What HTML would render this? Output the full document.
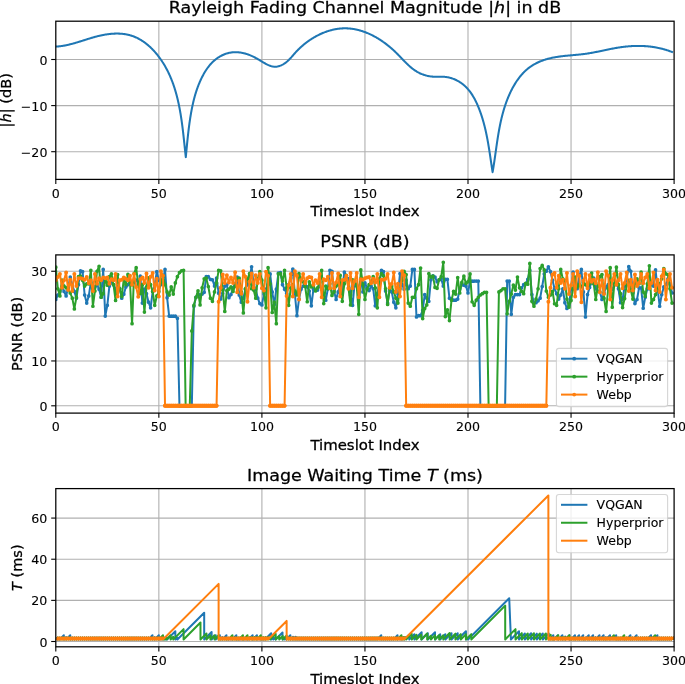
<!DOCTYPE html>
<html lang="en"><head><meta charset="utf-8"><title>Rayleigh fading channel simulation</title>
<style>html,body{margin:0;padding:0;background:#fff}svg{display:block;will-change:transform}text{font-family:'DejaVu Sans', 'Liberation Sans', sans-serif;fill:#000;stroke:#000;stroke-width:.28px;stroke-linejoin:round}.t{stroke-width:.12px}</style>
</head><body>
<svg width="685" height="684" viewBox="0 0 685 684">
<rect width="685" height="684" fill="#fff"/>
<defs>
<clipPath id="c0"><rect x="55.8" y="21.2" width="618.3" height="158.2"/></clipPath>
<clipPath id="c1"><rect x="55.8" y="254.9" width="618.3" height="158.2"/></clipPath>
<clipPath id="c2"><rect x="55.8" y="488.6" width="618.3" height="158.2"/></clipPath>
</defs>
<line x1="158.85" x2="158.85" y1="21.2" y2="179.4" stroke="#b0b0b0" stroke-width="1.1"/>
<line x1="261.9" x2="261.9" y1="21.2" y2="179.4" stroke="#b0b0b0" stroke-width="1.1"/>
<line x1="364.95" x2="364.95" y1="21.2" y2="179.4" stroke="#b0b0b0" stroke-width="1.1"/>
<line x1="468" x2="468" y1="21.2" y2="179.4" stroke="#b0b0b0" stroke-width="1.1"/>
<line x1="571.05" x2="571.05" y1="21.2" y2="179.4" stroke="#b0b0b0" stroke-width="1.1"/>
<line x1="55.8" x2="674.1" y1="59.5" y2="59.5" stroke="#b0b0b0" stroke-width="1.1"/>
<line x1="55.8" x2="674.1" y1="105.6" y2="105.6" stroke="#b0b0b0" stroke-width="1.1"/>
<line x1="55.8" x2="674.1" y1="151.7" y2="151.7" stroke="#b0b0b0" stroke-width="1.1"/>
<path d="M55.8 46.6 L56.41 46.57 L57.01 46.53 L57.61 46.48 L58.21 46.43 L58.81 46.37 L59.41 46.31 L60 46.24 L60.6 46.16 L61.19 46.08 L61.78 46 L62.37 45.91 L62.96 45.82 L63.55 45.72 L64.14 45.62 L64.72 45.51 L65.31 45.4 L65.89 45.28 L66.48 45.16 L67.06 45.04 L67.64 44.91 L68.22 44.78 L68.8 44.65 L69.38 44.51 L69.95 44.37 L70.53 44.22 L71.11 44.08 L71.68 43.93 L72.26 43.77 L72.83 43.62 L73.4 43.46 L73.98 43.3 L74.55 43.14 L75.12 42.97 L75.7 42.81 L76.27 42.64 L76.84 42.47 L77.41 42.3 L77.98 42.12 L78.55 41.95 L79.12 41.77 L79.69 41.59 L80.26 41.42 L80.84 41.24 L81.41 41.06 L81.98 40.88 L82.55 40.7 L83.12 40.52 L83.69 40.33 L84.26 40.15 L84.83 39.97 L85.41 39.79 L85.98 39.61 L86.55 39.43 L87.12 39.25 L87.7 39.07 L88.27 38.89 L88.85 38.71 L89.42 38.53 L90 38.36 L90.57 38.18 L91.15 38.01 L91.73 37.84 L92.31 37.67 L92.89 37.5 L93.47 37.33 L94.05 37.17 L94.63 37.01 L95.22 36.85 L95.8 36.69 L96.39 36.53 L96.97 36.38 L97.56 36.23 L98.15 36.09 L98.74 35.94 L99.33 35.8 L99.93 35.66 L100.52 35.53 L101.12 35.4 L101.71 35.27 L102.31 35.15 L102.91 35.03 L103.51 34.92 L104.12 34.8 L104.72 34.7 L105.33 34.59 L105.93 34.5 L106.54 34.4 L107.15 34.31 L107.76 34.23 L108.37 34.15 L108.98 34.07 L109.59 34 L110.2 33.94 L110.81 33.88 L111.42 33.82 L112.04 33.78 L112.65 33.73 L113.26 33.69 L113.87 33.66 L114.48 33.63 L115.09 33.61 L115.71 33.6 L116.32 33.59 L116.92 33.58 L117.53 33.59 L118.14 33.59 L118.75 33.61 L119.35 33.63 L119.96 33.66 L120.56 33.69 L121.16 33.74 L121.76 33.78 L122.36 33.84 L122.96 33.9 L123.55 33.97 L124.15 34.05 L124.74 34.13 L125.33 34.22 L125.92 34.32 L126.5 34.43 L127.08 34.54 L127.66 34.66 L128.24 34.79 L128.82 34.93 L129.39 35.08 L129.96 35.23 L130.53 35.39 L131.09 35.56 L131.65 35.74 L132.21 35.92 L132.76 36.12 L133.32 36.32 L133.86 36.53 L134.41 36.75 L134.95 36.97 L135.49 37.2 L136.03 37.44 L136.56 37.69 L137.09 37.94 L137.62 38.2 L138.14 38.47 L138.66 38.74 L139.18 39.03 L139.7 39.31 L140.21 39.61 L140.72 39.91 L141.22 40.22 L141.72 40.53 L142.22 40.85 L142.72 41.17 L143.21 41.5 L143.7 41.84 L144.19 42.18 L144.67 42.53 L145.15 42.89 L145.62 43.25 L146.1 43.61 L146.57 43.98 L147.03 44.36 L147.49 44.74 L147.95 45.12 L148.41 45.52 L148.86 45.91 L149.31 46.31 L149.76 46.71 L150.2 47.12 L150.64 47.54 L151.07 47.95 L151.51 48.38 L151.94 48.8 L152.36 49.23 L152.78 49.67 L153.2 50.1 L153.62 50.55 L154.03 50.99 L154.43 51.44 L154.84 51.89 L155.24 52.35 L155.64 52.81 L156.03 53.27 L156.42 53.73 L156.81 54.2 L157.19 54.67 L157.57 55.14 L157.94 55.62 L158.32 56.1 L158.68 56.58 L159.05 57.06 L159.41 57.55 L159.77 58.04 L160.12 58.53 L160.47 59.02 L160.82 59.51 L161.16 60.01 L161.5 60.5 L161.83 61 L162.17 61.5 L162.49 62.01 L162.82 62.51 L163.14 63.02 L163.46 63.53 L163.77 64.04 L164.08 64.55 L164.39 65.06 L164.69 65.58 L164.99 66.09 L165.29 66.61 L165.58 67.13 L165.87 67.65 L166.16 68.17 L166.44 68.7 L166.72 69.23 L167 69.75 L167.27 70.28 L167.54 70.81 L167.81 71.35 L168.08 71.88 L168.34 72.41 L168.6 72.95 L168.85 73.49 L169.1 74.03 L169.35 74.57 L169.6 75.11 L169.84 75.65 L170.08 76.2 L170.32 76.75 L170.55 77.29 L170.78 77.84 L171.01 78.39 L171.24 78.94 L171.46 79.5 L171.68 80.05 L171.9 80.61 L172.11 81.16 L172.33 81.72 L172.53 82.28 L172.74 82.84 L172.95 83.4 L173.15 83.96 L173.35 84.53 L173.54 85.09 L173.74 85.66 L173.93 86.22 L174.12 86.79 L174.3 87.36 L174.49 87.93 L174.67 88.5 L174.85 89.07 L175.02 89.64 L175.2 90.22 L175.37 90.79 L175.54 91.37 L175.71 91.95 L175.87 92.52 L176.04 93.1 L176.2 93.68 L176.36 94.26 L176.51 94.84 L176.67 95.42 L176.82 96 L176.97 96.59 L177.12 97.17 L177.26 97.76 L177.41 98.34 L177.55 98.93 L177.69 99.51 L177.83 100.1 L177.97 100.69 L178.1 101.28 L178.23 101.87 L178.36 102.46 L178.49 103.05 L178.62 103.64 L178.75 104.23 L178.87 104.82 L178.99 105.42 L179.11 106.01 L179.23 106.6 L179.35 107.2 L179.46 107.79 L179.58 108.39 L179.69 108.98 L179.8 109.58 L179.91 110.18 L180.02 110.77 L180.13 111.37 L180.23 111.97 L180.33 112.57 L180.44 113.16 L180.54 113.76 L180.64 114.36 L180.73 114.96 L180.83 115.56 L180.93 116.16 L181.02 116.76 L181.11 117.36 L181.21 117.96 L181.3 118.56 L181.39 119.16 L181.47 119.76 L181.56 120.36 L181.65 120.97 L181.73 121.57 L181.82 122.17 L181.9 122.77 L181.98 123.37 L182.06 123.97 L182.14 124.57 L182.22 125.18 L182.3 125.78 L182.38 126.38 L182.45 126.98 L182.53 127.58 L182.61 128.18 L182.68 128.78 L182.75 129.38 L182.83 129.99 L182.9 130.59 L182.97 131.19 L183.04 131.79 L183.11 132.39 L183.18 132.99 L183.25 133.59 L183.32 134.19 L183.39 134.79 L183.45 135.39 L183.52 135.99 L183.59 136.58 L183.65 137.18 L183.72 137.78 L183.78 138.38 L183.85 138.97 L183.91 139.57 L183.98 140.17 L184.04 140.76 L184.1 141.36 L184.17 141.96 L184.23 142.55 L184.29 143.14 L184.36 143.74 L184.42 144.33 L184.48 144.92 L184.55 145.52 L184.61 146.11 L184.67 146.7 L184.73 147.29 L184.8 147.88 L184.86 148.47 L184.92 149.06 L184.98 149.64 L185.05 150.23 L185.11 150.82 L185.17 151.4 L185.23 151.99 L185.3 152.57 L185.36 153.16 L185.42 153.74 L185.49 154.32 L185.55 154.9 L185.62 155.49 L185.68 156.06 L185.75 156.64 L185.8 157.1 L185.8 157.1 L185.86 156.5 L185.92 155.91 L185.97 155.31 L186.03 154.71 L186.09 154.11 L186.15 153.52 L186.2 152.92 L186.26 152.32 L186.32 151.72 L186.38 151.13 L186.43 150.53 L186.49 149.93 L186.55 149.34 L186.61 148.74 L186.66 148.14 L186.72 147.54 L186.78 146.95 L186.84 146.35 L186.9 145.75 L186.96 145.15 L187.01 144.56 L187.07 143.96 L187.13 143.36 L187.19 142.77 L187.25 142.17 L187.31 141.57 L187.37 140.98 L187.43 140.38 L187.5 139.78 L187.56 139.19 L187.62 138.59 L187.68 137.99 L187.75 137.4 L187.81 136.8 L187.88 136.2 L187.94 135.61 L188.01 135.01 L188.07 134.41 L188.14 133.82 L188.21 133.22 L188.28 132.63 L188.34 132.03 L188.41 131.43 L188.48 130.84 L188.56 130.24 L188.63 129.65 L188.7 129.05 L188.77 128.46 L188.85 127.86 L188.92 127.27 L189 126.67 L189.08 126.08 L189.16 125.48 L189.24 124.89 L189.32 124.29 L189.4 123.7 L189.48 123.1 L189.56 122.51 L189.65 121.92 L189.73 121.32 L189.82 120.73 L189.91 120.13 L190 119.54 L190.09 118.95 L190.18 118.35 L190.27 117.76 L190.36 117.17 L190.46 116.58 L190.56 115.98 L190.65 115.39 L190.75 114.8 L190.85 114.21 L190.96 113.62 L191.06 113.02 L191.16 112.43 L191.27 111.84 L191.38 111.25 L191.49 110.66 L191.6 110.07 L191.71 109.48 L191.83 108.89 L191.94 108.3 L192.06 107.71 L192.18 107.12 L192.3 106.53 L192.42 105.95 L192.55 105.36 L192.68 104.77 L192.81 104.18 L192.94 103.6 L193.07 103.01 L193.21 102.43 L193.34 101.84 L193.48 101.26 L193.62 100.68 L193.77 100.09 L193.92 99.51 L194.06 98.93 L194.22 98.35 L194.37 97.77 L194.53 97.19 L194.68 96.61 L194.84 96.04 L195.01 95.46 L195.17 94.89 L195.34 94.31 L195.52 93.74 L195.69 93.16 L195.87 92.59 L196.05 92.02 L196.23 91.45 L196.41 90.88 L196.6 90.31 L196.79 89.75 L196.99 89.18 L197.19 88.61 L197.39 88.05 L197.59 87.49 L197.8 86.93 L198.01 86.37 L198.22 85.81 L198.44 85.25 L198.66 84.69 L198.88 84.14 L199.11 83.58 L199.34 83.03 L199.57 82.48 L199.81 81.93 L200.05 81.38 L200.29 80.83 L200.54 80.28 L200.79 79.74 L201.04 79.19 L201.3 78.65 L201.56 78.11 L201.83 77.57 L202.1 77.03 L202.37 76.5 L202.65 75.96 L202.93 75.43 L203.22 74.9 L203.51 74.37 L203.8 73.85 L204.1 73.32 L204.4 72.8 L204.71 72.28 L205.02 71.77 L205.34 71.25 L205.66 70.74 L205.99 70.24 L206.32 69.73 L206.66 69.23 L207 68.74 L207.34 68.25 L207.7 67.76 L208.06 67.28 L208.42 66.8 L208.79 66.32 L209.16 65.85 L209.55 65.39 L209.93 64.93 L210.33 64.47 L210.73 64.02 L211.13 63.58 L211.54 63.14 L211.96 62.71 L212.39 62.28 L212.82 61.86 L213.26 61.45 L213.7 61.04 L214.15 60.64 L214.61 60.24 L215.08 59.85 L215.55 59.47 L216.03 59.1 L216.52 58.73 L217.01 58.37 L217.51 58.02 L218.02 57.67 L218.54 57.34 L219.06 57.01 L219.59 56.69 L220.13 56.38 L220.67 56.08 L221.22 55.78 L221.77 55.5 L222.32 55.23 L222.88 54.97 L223.44 54.72 L224.01 54.48 L224.57 54.25 L225.14 54.04 L225.71 53.83 L226.28 53.64 L226.85 53.46 L227.42 53.29 L228 53.14 L228.57 53 L229.14 52.87 L229.72 52.75 L230.29 52.64 L230.87 52.54 L231.44 52.46 L232.02 52.39 L232.59 52.33 L233.17 52.27 L233.74 52.24 L234.32 52.21 L234.9 52.19 L235.47 52.18 L236.05 52.19 L236.63 52.2 L237.21 52.22 L237.78 52.26 L238.36 52.3 L238.94 52.36 L239.51 52.42 L240.09 52.5 L240.66 52.58 L241.24 52.67 L241.82 52.78 L242.39 52.89 L242.96 53.01 L243.54 53.14 L244.11 53.28 L244.69 53.43 L245.26 53.58 L245.83 53.75 L246.4 53.92 L246.97 54.11 L247.54 54.3 L248.11 54.49 L248.68 54.7 L249.24 54.91 L249.81 55.14 L250.38 55.37 L250.94 55.6 L251.5 55.85 L252.07 56.1 L252.63 56.36 L253.19 56.63 L253.75 56.9 L254.3 57.18 L254.86 57.47 L255.41 57.76 L255.97 58.06 L256.52 58.37 L257.07 58.68 L257.62 59 L258.17 59.32 L258.72 59.65 L259.26 59.98 L259.81 60.31 L260.35 60.64 L260.89 60.97 L261.43 61.3 L261.98 61.63 L262.52 61.96 L263.06 62.28 L263.6 62.6 L264.13 62.91 L264.67 63.22 L265.21 63.52 L265.75 63.81 L266.29 64.1 L266.82 64.37 L267.36 64.64 L267.9 64.89 L268.44 65.13 L268.98 65.35 L269.52 65.57 L270.05 65.76 L270.59 65.95 L271.13 66.11 L271.67 66.26 L272.21 66.39 L272.76 66.5 L273.3 66.59 L273.84 66.66 L274.39 66.7 L274.93 66.72 L275.48 66.72 L276.03 66.7 L276.58 66.65 L277.13 66.57 L277.68 66.47 L278.23 66.35 L278.77 66.21 L279.32 66.04 L279.87 65.86 L280.41 65.65 L280.95 65.43 L281.49 65.19 L282.02 64.93 L282.55 64.65 L283.07 64.36 L283.59 64.05 L284.1 63.73 L284.61 63.4 L285.11 63.05 L285.6 62.7 L286.09 62.33 L286.56 61.95 L287.03 61.56 L287.49 61.17 L287.93 60.76 L288.37 60.35 L288.8 59.94 L289.23 59.51 L289.65 59.09 L290.06 58.65 L290.46 58.21 L290.87 57.77 L291.27 57.33 L291.66 56.88 L292.05 56.43 L292.45 55.98 L292.84 55.52 L293.23 55.07 L293.62 54.62 L294.01 54.16 L294.41 53.71 L294.8 53.26 L295.2 52.81 L295.61 52.36 L296.02 51.92 L296.43 51.48 L296.85 51.04 L297.27 50.6 L297.69 50.17 L298.12 49.74 L298.55 49.31 L298.99 48.89 L299.42 48.47 L299.87 48.05 L300.31 47.63 L300.76 47.22 L301.22 46.81 L301.67 46.4 L302.13 46 L302.6 45.6 L303.06 45.2 L303.53 44.81 L304.01 44.42 L304.48 44.03 L304.96 43.65 L305.44 43.27 L305.93 42.89 L306.42 42.52 L306.91 42.15 L307.4 41.79 L307.9 41.42 L308.4 41.07 L308.9 40.71 L309.41 40.36 L309.91 40.02 L310.42 39.68 L310.94 39.34 L311.45 39.01 L311.97 38.68 L312.49 38.35 L313.01 38.03 L313.54 37.72 L314.07 37.4 L314.6 37.1 L315.13 36.79 L315.66 36.49 L316.2 36.2 L316.74 35.91 L317.28 35.62 L317.82 35.34 L318.36 35.07 L318.91 34.8 L319.46 34.53 L320.01 34.27 L320.56 34.01 L321.11 33.76 L321.67 33.52 L322.22 33.28 L322.78 33.04 L323.34 32.81 L323.9 32.58 L324.46 32.36 L325.03 32.15 L325.59 31.94 L326.16 31.73 L326.73 31.53 L327.29 31.34 L327.86 31.15 L328.44 30.97 L329.01 30.79 L329.58 30.62 L330.15 30.46 L330.73 30.3 L331.31 30.14 L331.88 30 L332.46 29.85 L333.04 29.72 L333.62 29.59 L334.2 29.46 L334.78 29.35 L335.36 29.23 L335.94 29.13 L336.52 29.03 L337.1 28.94 L337.69 28.85 L338.27 28.77 L338.85 28.69 L339.44 28.63 L340.02 28.57 L340.61 28.51 L341.19 28.46 L341.77 28.42 L342.36 28.39 L342.94 28.36 L343.53 28.34 L344.11 28.33 L344.69 28.32 L345.28 28.32 L345.86 28.32 L346.44 28.34 L347.03 28.36 L347.61 28.39 L348.19 28.42 L348.77 28.46 L349.36 28.51 L349.94 28.56 L350.52 28.62 L351.1 28.69 L351.68 28.76 L352.26 28.84 L352.84 28.92 L353.41 29.01 L353.99 29.11 L354.57 29.22 L355.15 29.33 L355.72 29.44 L356.3 29.56 L356.87 29.69 L357.44 29.82 L358.02 29.96 L358.59 30.11 L359.16 30.26 L359.73 30.42 L360.3 30.58 L360.86 30.75 L361.43 30.92 L362 31.1 L362.56 31.28 L363.13 31.47 L363.69 31.67 L364.25 31.86 L364.81 32.07 L365.37 32.28 L365.93 32.5 L366.49 32.72 L367.04 32.94 L367.6 33.17 L368.15 33.41 L368.7 33.65 L369.25 33.89 L369.8 34.14 L370.35 34.39 L370.9 34.65 L371.44 34.92 L371.99 35.18 L372.53 35.46 L373.07 35.73 L373.61 36.01 L374.14 36.3 L374.68 36.59 L375.21 36.88 L375.75 37.18 L376.28 37.48 L376.8 37.79 L377.33 38.1 L377.86 38.42 L378.38 38.73 L378.9 39.06 L379.42 39.38 L379.94 39.71 L380.45 40.04 L380.97 40.38 L381.48 40.72 L381.99 41.07 L382.5 41.41 L383 41.77 L383.51 42.12 L384.01 42.48 L384.51 42.84 L385 43.2 L385.5 43.57 L385.99 43.94 L386.48 44.32 L386.97 44.69 L387.46 45.08 L387.94 45.46 L388.42 45.84 L388.9 46.23 L389.38 46.62 L389.85 47.02 L390.32 47.42 L390.79 47.82 L391.25 48.22 L391.72 48.62 L392.18 49.03 L392.64 49.44 L393.09 49.85 L393.55 50.27 L394 50.68 L394.44 51.1 L394.89 51.52 L395.33 51.95 L395.77 52.37 L396.21 52.8 L396.64 53.23 L397.07 53.66 L397.5 54.09 L397.93 54.53 L398.35 54.96 L398.78 55.39 L399.2 55.83 L399.62 56.27 L400.04 56.7 L400.46 57.14 L400.88 57.57 L401.3 58.01 L401.71 58.44 L402.13 58.88 L402.55 59.31 L402.96 59.74 L403.38 60.17 L403.79 60.6 L404.21 61.03 L404.63 61.46 L405.05 61.88 L405.47 62.3 L405.89 62.72 L406.31 63.14 L406.73 63.55 L407.16 63.96 L407.58 64.37 L408.01 64.77 L408.44 65.17 L408.87 65.57 L409.31 65.96 L409.74 66.35 L410.18 66.73 L410.63 67.11 L411.07 67.48 L411.52 67.85 L411.98 68.22 L412.43 68.58 L412.89 68.93 L413.35 69.28 L413.82 69.62 L414.29 69.96 L414.77 70.29 L415.25 70.61 L415.74 70.93 L416.23 71.24 L416.72 71.54 L417.22 71.84 L417.73 72.13 L418.24 72.41 L418.76 72.68 L419.28 72.95 L419.81 73.2 L420.34 73.45 L420.88 73.69 L421.43 73.93 L421.98 74.15 L422.53 74.36 L423.09 74.57 L423.66 74.77 L424.23 74.96 L424.8 75.14 L425.38 75.31 L425.96 75.47 L426.55 75.62 L427.13 75.77 L427.72 75.9 L428.32 76.02 L428.91 76.14 L429.51 76.24 L430.11 76.34 L430.71 76.42 L431.32 76.5 L431.92 76.57 L432.52 76.62 L433.13 76.67 L433.74 76.7 L434.34 76.73 L434.95 76.75 L435.56 76.76 L436.17 76.76 L436.77 76.76 L437.38 76.75 L437.99 76.75 L438.59 76.74 L439.2 76.73 L439.81 76.72 L440.41 76.71 L441.01 76.71 L441.62 76.72 L442.22 76.73 L442.82 76.74 L443.42 76.77 L444.02 76.8 L444.62 76.85 L445.21 76.91 L445.8 76.98 L446.4 77.06 L446.99 77.15 L447.57 77.25 L448.16 77.36 L448.74 77.49 L449.32 77.62 L449.9 77.77 L450.48 77.92 L451.05 78.09 L451.62 78.26 L452.18 78.45 L452.75 78.64 L453.31 78.85 L453.86 79.06 L454.41 79.29 L454.96 79.52 L455.5 79.76 L456.04 80.01 L456.57 80.27 L457.1 80.54 L457.63 80.82 L458.15 81.11 L458.67 81.4 L459.18 81.71 L459.68 82.02 L460.18 82.34 L460.67 82.67 L461.16 83.01 L461.65 83.35 L462.12 83.7 L462.59 84.06 L463.06 84.43 L463.51 84.81 L463.96 85.19 L464.41 85.58 L464.85 85.97 L465.28 86.38 L465.71 86.79 L466.12 87.2 L466.54 87.62 L466.95 88.05 L467.35 88.49 L467.74 88.93 L468.13 89.38 L468.52 89.83 L468.89 90.29 L469.27 90.75 L469.63 91.22 L469.99 91.7 L470.35 92.18 L470.7 92.66 L471.05 93.15 L471.39 93.64 L471.72 94.14 L472.05 94.64 L472.38 95.15 L472.7 95.66 L473.01 96.18 L473.32 96.7 L473.63 97.22 L473.93 97.75 L474.23 98.28 L474.52 98.81 L474.81 99.35 L475.09 99.89 L475.37 100.43 L475.64 100.97 L475.92 101.52 L476.18 102.07 L476.45 102.62 L476.7 103.18 L476.96 103.73 L477.21 104.29 L477.46 104.85 L477.7 105.42 L477.94 105.98 L478.18 106.54 L478.41 107.11 L478.64 107.68 L478.87 108.25 L479.09 108.82 L479.31 109.39 L479.53 109.96 L479.75 110.53 L479.96 111.1 L480.17 111.67 L480.37 112.24 L480.57 112.81 L480.77 113.39 L480.97 113.96 L481.17 114.53 L481.36 115.1 L481.55 115.68 L481.73 116.25 L481.92 116.83 L482.1 117.4 L482.28 117.97 L482.45 118.55 L482.63 119.12 L482.8 119.7 L482.97 120.28 L483.14 120.85 L483.3 121.43 L483.46 122 L483.62 122.58 L483.78 123.16 L483.94 123.74 L484.09 124.31 L484.24 124.89 L484.39 125.47 L484.54 126.05 L484.68 126.63 L484.83 127.21 L484.97 127.79 L485.11 128.37 L485.25 128.95 L485.38 129.53 L485.52 130.11 L485.65 130.69 L485.78 131.27 L485.91 131.85 L486.04 132.43 L486.16 133.01 L486.29 133.6 L486.41 134.18 L486.53 134.76 L486.65 135.34 L486.77 135.93 L486.88 136.51 L487 137.1 L487.11 137.68 L487.22 138.26 L487.34 138.85 L487.45 139.43 L487.55 140.02 L487.66 140.6 L487.77 141.19 L487.87 141.78 L487.98 142.36 L488.08 142.95 L488.18 143.54 L488.28 144.12 L488.38 144.71 L488.48 145.3 L488.58 145.89 L488.68 146.47 L488.78 147.06 L488.87 147.65 L488.97 148.24 L489.06 148.83 L489.16 149.42 L489.25 150.01 L489.34 150.6 L489.44 151.19 L489.53 151.78 L489.62 152.37 L489.71 152.96 L489.8 153.55 L489.89 154.15 L489.98 154.74 L490.07 155.33 L490.16 155.92 L490.25 156.52 L490.33 157.11 L490.42 157.7 L490.51 158.3 L490.6 158.89 L490.69 159.48 L490.77 160.08 L490.86 160.67 L490.95 161.27 L491.04 161.86 L491.12 162.46 L491.21 163.05 L491.3 163.65 L491.39 164.25 L491.48 164.84 L491.57 165.44 L491.66 166.04 L491.75 166.63 L491.84 167.23 L491.93 167.83 L492.02 168.43 L492.11 169.03 L492.2 169.62 L492.29 170.22 L492.38 170.82 L492.48 171.42 L492.57 172.02 L492.6 172.2 L492.6 172.2 L492.7 171.61 L492.8 171.02 L492.9 170.43 L493 169.85 L493.1 169.26 L493.2 168.67 L493.3 168.08 L493.39 167.49 L493.49 166.9 L493.58 166.3 L493.67 165.71 L493.76 165.12 L493.86 164.53 L493.95 163.94 L494.04 163.35 L494.13 162.75 L494.21 162.16 L494.3 161.57 L494.39 160.98 L494.48 160.38 L494.56 159.79 L494.65 159.2 L494.74 158.6 L494.82 158.01 L494.91 157.42 L494.99 156.82 L495.08 156.23 L495.16 155.64 L495.25 155.04 L495.33 154.45 L495.41 153.85 L495.5 153.26 L495.58 152.67 L495.67 152.07 L495.75 151.48 L495.83 150.88 L495.92 150.29 L496 149.69 L496.09 149.1 L496.17 148.5 L496.25 147.91 L496.34 147.32 L496.42 146.72 L496.51 146.13 L496.6 145.53 L496.68 144.94 L496.77 144.34 L496.86 143.75 L496.94 143.16 L497.03 142.56 L497.12 141.97 L497.21 141.37 L497.3 140.78 L497.39 140.19 L497.48 139.59 L497.57 139 L497.66 138.41 L497.76 137.81 L497.85 137.22 L497.95 136.63 L498.04 136.04 L498.14 135.44 L498.24 134.85 L498.34 134.26 L498.43 133.67 L498.54 133.08 L498.64 132.48 L498.74 131.89 L498.84 131.3 L498.95 130.71 L499.06 130.12 L499.16 129.53 L499.27 128.94 L499.38 128.35 L499.5 127.76 L499.61 127.18 L499.72 126.59 L499.84 126 L499.96 125.41 L500.08 124.82 L500.2 124.24 L500.32 123.65 L500.44 123.06 L500.57 122.48 L500.69 121.89 L500.82 121.31 L500.95 120.72 L501.09 120.14 L501.22 119.55 L501.36 118.97 L501.49 118.39 L501.63 117.8 L501.78 117.22 L501.92 116.64 L502.07 116.06 L502.21 115.48 L502.36 114.9 L502.52 114.32 L502.67 113.74 L502.83 113.16 L502.99 112.58 L503.15 112 L503.31 111.43 L503.48 110.85 L503.64 110.27 L503.81 109.7 L503.99 109.12 L504.16 108.55 L504.34 107.97 L504.52 107.4 L504.7 106.83 L504.89 106.26 L505.08 105.68 L505.27 105.11 L505.46 104.54 L505.66 103.97 L505.86 103.41 L506.06 102.84 L506.26 102.27 L506.47 101.7 L506.68 101.14 L506.9 100.57 L507.11 100.01 L507.33 99.44 L507.55 98.88 L507.78 98.32 L508.01 97.75 L508.24 97.19 L508.47 96.63 L508.71 96.07 L508.95 95.51 L509.2 94.96 L509.45 94.4 L509.7 93.84 L509.95 93.29 L510.21 92.73 L510.47 92.18 L510.74 91.63 L511 91.08 L511.28 90.53 L511.55 89.99 L511.83 89.44 L512.11 88.9 L512.4 88.36 L512.69 87.82 L512.98 87.28 L513.28 86.75 L513.58 86.21 L513.88 85.68 L514.19 85.16 L514.5 84.63 L514.81 84.11 L515.13 83.59 L515.45 83.07 L515.78 82.56 L516.11 82.05 L516.44 81.54 L516.78 81.04 L517.12 80.54 L517.46 80.04 L517.81 79.55 L518.17 79.06 L518.52 78.57 L518.88 78.09 L519.25 77.61 L519.62 77.14 L519.99 76.67 L520.37 76.2 L520.75 75.74 L521.13 75.28 L521.52 74.83 L521.91 74.38 L522.31 73.94 L522.71 73.5 L523.12 73.07 L523.53 72.64 L523.94 72.22 L524.36 71.8 L524.78 71.39 L525.21 70.98 L525.64 70.58 L526.07 70.18 L526.51 69.79 L526.96 69.41 L527.41 69.03 L527.86 68.66 L528.32 68.29 L528.78 67.93 L529.24 67.58 L529.71 67.23 L530.19 66.89 L530.67 66.55 L531.15 66.23 L531.64 65.9 L532.13 65.59 L532.63 65.28 L533.13 64.97 L533.63 64.67 L534.14 64.38 L534.65 64.09 L535.16 63.81 L535.68 63.54 L536.2 63.27 L536.73 63.01 L537.26 62.75 L537.79 62.5 L538.32 62.25 L538.86 62.01 L539.4 61.77 L539.94 61.54 L540.49 61.32 L541.04 61.1 L541.59 60.88 L542.14 60.67 L542.7 60.47 L543.26 60.27 L543.82 60.08 L544.38 59.89 L544.95 59.7 L545.52 59.53 L546.09 59.35 L546.66 59.18 L547.23 59.02 L547.81 58.86 L548.38 58.7 L548.96 58.55 L549.54 58.41 L550.12 58.26 L550.7 58.13 L551.29 57.99 L551.87 57.87 L552.46 57.74 L553.04 57.62 L553.63 57.51 L554.22 57.39 L554.81 57.28 L555.4 57.18 L555.99 57.08 L556.58 56.98 L557.18 56.89 L557.77 56.79 L558.37 56.7 L558.96 56.62 L559.56 56.54 L560.16 56.45 L560.75 56.38 L561.35 56.3 L561.95 56.23 L562.55 56.16 L563.15 56.09 L563.75 56.02 L564.35 55.95 L564.95 55.89 L565.56 55.83 L566.16 55.77 L566.76 55.71 L567.37 55.65 L567.97 55.59 L568.57 55.53 L569.18 55.48 L569.78 55.42 L570.38 55.37 L570.99 55.31 L571.59 55.26 L572.2 55.2 L572.8 55.15 L573.41 55.1 L574.01 55.04 L574.62 54.99 L575.22 54.93 L575.82 54.88 L576.43 54.82 L577.03 54.77 L577.64 54.71 L578.24 54.65 L578.84 54.59 L579.44 54.53 L580.05 54.47 L580.65 54.4 L581.25 54.34 L581.85 54.27 L582.45 54.2 L583.05 54.13 L583.65 54.06 L584.25 53.98 L584.85 53.9 L585.44 53.82 L586.04 53.74 L586.64 53.65 L587.23 53.57 L587.83 53.48 L588.42 53.38 L589.01 53.29 L589.61 53.19 L590.2 53.09 L590.79 52.99 L591.38 52.88 L591.97 52.78 L592.56 52.67 L593.15 52.56 L593.74 52.45 L594.33 52.34 L594.92 52.22 L595.5 52.11 L596.09 51.99 L596.68 51.88 L597.26 51.76 L597.85 51.64 L598.44 51.52 L599.02 51.4 L599.61 51.28 L600.19 51.15 L600.78 51.03 L601.36 50.91 L601.95 50.78 L602.53 50.66 L603.12 50.54 L603.7 50.41 L604.29 50.29 L604.87 50.17 L605.45 50.04 L606.04 49.92 L606.62 49.8 L607.21 49.68 L607.79 49.55 L608.38 49.43 L608.96 49.31 L609.55 49.19 L610.13 49.08 L610.72 48.96 L611.3 48.84 L611.89 48.73 L612.47 48.62 L613.06 48.5 L613.65 48.39 L614.23 48.28 L614.82 48.18 L615.41 48.07 L615.99 47.97 L616.58 47.87 L617.17 47.77 L617.76 47.67 L618.35 47.58 L618.94 47.48 L619.53 47.39 L620.12 47.3 L620.71 47.22 L621.3 47.14 L621.89 47.06 L622.49 46.98 L623.08 46.9 L623.67 46.83 L624.27 46.76 L624.86 46.69 L625.46 46.63 L626.05 46.57 L626.65 46.51 L627.24 46.45 L627.84 46.4 L628.43 46.34 L629.03 46.3 L629.62 46.25 L630.22 46.21 L630.82 46.17 L631.41 46.13 L632.01 46.1 L632.61 46.07 L633.21 46.04 L633.8 46.01 L634.4 45.99 L635 45.97 L635.6 45.96 L636.19 45.94 L636.79 45.93 L637.39 45.93 L637.99 45.92 L638.58 45.92 L639.18 45.93 L639.78 45.93 L640.38 45.94 L640.98 45.96 L641.57 45.97 L642.17 45.99 L642.77 46.02 L643.36 46.04 L643.96 46.07 L644.56 46.11 L645.16 46.14 L645.75 46.18 L646.35 46.23 L646.94 46.27 L647.54 46.33 L648.14 46.38 L648.73 46.44 L649.33 46.5 L649.92 46.57 L650.51 46.64 L651.11 46.71 L651.7 46.79 L652.3 46.87 L652.89 46.95 L653.48 47.04 L654.07 47.13 L654.67 47.23 L655.26 47.33 L655.85 47.43 L656.44 47.54 L657.03 47.65 L657.62 47.77 L658.21 47.89 L658.79 48.01 L659.38 48.14 L659.97 48.28 L660.56 48.41 L661.14 48.55 L661.73 48.7 L662.31 48.85 L662.9 49 L663.48 49.16 L664.06 49.32 L664.64 49.49 L665.23 49.66 L665.81 49.83 L666.39 50.01 L666.97 50.2 L667.54 50.39 L668.12 50.58 L668.7 50.78 L669.28 50.98 L669.85 51.18 L670.42 51.4 L671 51.61 L671.57 51.83 L672 52" fill="none" stroke="#1f77b4" stroke-width="2.05" stroke-linejoin="round" stroke-linecap="square" clip-path="url(#c0)"/>
<rect x="55.8" y="21.2" width="618.3" height="158.2" fill="none" stroke="#000" stroke-width="1.25"/>
<line x1="55.8" x2="55.8" y1="179.4" y2="184" stroke="#000" stroke-width="1.1"/>
<text class="t" x="55.8" y="197.5" font-size="12.6" text-anchor="middle">0</text>
<line x1="158.85" x2="158.85" y1="179.4" y2="184" stroke="#000" stroke-width="1.1"/>
<text class="t" x="158.85" y="197.5" font-size="12.6" text-anchor="middle">50</text>
<line x1="261.9" x2="261.9" y1="179.4" y2="184" stroke="#000" stroke-width="1.1"/>
<text class="t" x="261.9" y="197.5" font-size="12.6" text-anchor="middle">100</text>
<line x1="364.95" x2="364.95" y1="179.4" y2="184" stroke="#000" stroke-width="1.1"/>
<text class="t" x="364.95" y="197.5" font-size="12.6" text-anchor="middle">150</text>
<line x1="468" x2="468" y1="179.4" y2="184" stroke="#000" stroke-width="1.1"/>
<text class="t" x="468" y="197.5" font-size="12.6" text-anchor="middle">200</text>
<line x1="571.05" x2="571.05" y1="179.4" y2="184" stroke="#000" stroke-width="1.1"/>
<text class="t" x="571.05" y="197.5" font-size="12.6" text-anchor="middle">250</text>
<line x1="674.1" x2="674.1" y1="179.4" y2="184" stroke="#000" stroke-width="1.1"/>
<text class="t" x="674.1" y="197.5" font-size="12.6" text-anchor="middle">300</text>
<line x1="51.2" x2="55.8" y1="59.5" y2="59.5" stroke="#000" stroke-width="1.1"/>
<text class="t" x="47.4" y="64.5" font-size="12.6" text-anchor="end">0</text>
<line x1="51.2" x2="55.8" y1="105.6" y2="105.6" stroke="#000" stroke-width="1.1"/>
<text class="t" x="47.4" y="110.6" font-size="12.6" text-anchor="end">−10</text>
<line x1="51.2" x2="55.8" y1="151.7" y2="151.7" stroke="#000" stroke-width="1.1"/>
<text class="t" x="47.4" y="156.7" font-size="12.6" text-anchor="end">−20</text>
<text transform="translate(364.95 216.15) scale(1.05 1)" font-size="14.2" text-anchor="middle">Timeslot Index</text>
<text transform="translate(364.95 13.2) scale(1.05 1)" font-size="16.67" text-anchor="middle">Rayleigh Fading Channel Magnitude |<tspan font-style="italic">h</tspan>| in dB</text>
<text transform="translate(10.8 100.3) scale(1.025 1) rotate(-90)" font-size="14.55" text-anchor="middle">|<tspan font-style="italic">h</tspan>| (dB)</text>
<line x1="158.85" x2="158.85" y1="254.9" y2="413.1" stroke="#b0b0b0" stroke-width="1.1"/>
<line x1="261.9" x2="261.9" y1="254.9" y2="413.1" stroke="#b0b0b0" stroke-width="1.1"/>
<line x1="364.95" x2="364.95" y1="254.9" y2="413.1" stroke="#b0b0b0" stroke-width="1.1"/>
<line x1="468" x2="468" y1="254.9" y2="413.1" stroke="#b0b0b0" stroke-width="1.1"/>
<line x1="571.05" x2="571.05" y1="254.9" y2="413.1" stroke="#b0b0b0" stroke-width="1.1"/>
<line x1="55.8" x2="674.1" y1="405.8" y2="405.8" stroke="#b0b0b0" stroke-width="1.1"/>
<line x1="55.8" x2="674.1" y1="360.95" y2="360.95" stroke="#b0b0b0" stroke-width="1.1"/>
<line x1="55.8" x2="674.1" y1="316.1" y2="316.1" stroke="#b0b0b0" stroke-width="1.1"/>
<line x1="55.8" x2="674.1" y1="271.25" y2="271.25" stroke="#b0b0b0" stroke-width="1.1"/>
<g clip-path="url(#c1)">
<path d="M55.8 299.51 L57.86 295.02 L59.92 291.43 L61.98 286.95 L64.04 291.43 L66.11 295.92 L68.17 286.95 L70.23 277.08 L72.29 284.7 L74.35 291.43 L76.41 298.16 L78.47 284.7 L80.53 270.8 L82.59 271.7 L84.65 295.02 L86.72 303.09 L88.78 295.92 L90.84 282.46 L92.9 289.19 L94.96 286.95 L97.02 284.7 L99.08 289.19 L101.14 297.26 L103.2 269.46 L105.26 316.1 L107.33 305.34 L109.39 286.05 L111.45 282.46 L113.51 284.7 L115.57 289.19 L117.63 286.95 L119.69 288.74 L121.75 298.16 L123.81 294.12 L125.87 286.95 L127.94 284.7 L130 282.46 L132.06 284.7 L134.12 282.46 L136.18 280.22 L138.24 282.46 L140.3 276.18 L142.36 303.09 L144.42 289.19 L146.48 293.68 L148.55 302.2 L150.61 307.8 L152.67 291.43 L154.73 284.7 L156.79 271.7 L158.85 280.22 L160.91 284.7 L162.97 280.22 L165.03 269.46 L167.09 297.71 L169.16 316.1 L171.22 316.1 L173.28 316.1 L175.34 316.1 L177.4 318.34 L179.46 405.8 L181.52 405.8 L183.58 405.8 L185.64 405.8 L187.7 405.8 L189.77 405.8 L191.83 405.8 L193.89 306.23 L195.95 297.26 L198.01 294.12 L200.07 295.02 L202.13 294.12 L204.19 292.33 L206.25 276.63 L208.31 276.63 L210.38 279.32 L212.44 279.77 L214.5 286.05 L216.56 278.2 L218.62 293.23 L220.68 299.06 L222.74 293.23 L224.8 286.05 L226.86 284.7 L228.92 297.71 L230.99 294.57 L233.05 287.84 L235.11 283.81 L237.17 277.08 L239.23 295.02 L241.29 302.2 L243.35 298.16 L245.41 289.19 L247.47 284.7 L249.53 278.87 L251.6 266.76 L253.66 284.7 L255.72 289.19 L257.78 298.16 L259.84 303.54 L261.9 304.89 L263.96 294.12 L266.02 289.19 L268.08 284.7 L270.14 273.94 L272.21 291.88 L274.27 304.44 L276.33 289.19 L278.39 273.04 L280.45 272.6 L282.51 284.7 L284.57 289.19 L286.63 293.68 L288.69 284.7 L290.75 277.98 L292.82 269.01 L294.88 294.12 L296.94 315.65 L299 299.06 L301.06 289.19 L303.12 286.05 L305.18 284.7 L307.24 286.95 L309.3 290.98 L311.36 305.78 L313.43 289.19 L315.49 290.09 L317.55 290.09 L319.61 286.05 L321.67 289.19 L323.73 293.68 L325.79 300.18 L327.85 288.74 L329.91 270.35 L331.97 271.25 L334.04 290.98 L336.1 299.51 L338.16 291.88 L340.22 284.7 L342.28 289.19 L344.34 272.15 L346.4 276.63 L348.46 278.87 L350.52 295.02 L352.58 305.34 L354.65 282.91 L356.71 284.7 L358.77 289.19 L360.83 278.87 L362.89 291.88 L364.95 282.91 L367.01 287.84 L369.07 290.54 L371.13 286.05 L373.19 288.74 L375.26 305.78 L377.32 293.68 L379.38 283.81 L381.44 270.35 L383.5 271.7 L385.56 290.98 L387.62 303.09 L389.68 288.74 L391.74 291.88 L393.8 302.2 L395.87 307.8 L397.93 293.68 L399.99 273.49 L402.05 284.7 L404.11 289.19 L406.17 280.22 L408.23 288.74 L410.29 286.05 L412.35 269.46 L414.41 269.46 L416.48 317 L418.54 315.65 L420.6 315.65 L422.66 310.27 L424.72 294.57 L426.78 298.16 L428.84 301.3 L430.9 279.77 L432.96 275.74 L435.02 277.08 L437.09 281.79 L439.15 279.77 L441.21 278.87 L443.27 286.05 L445.33 279.32 L447.39 279.32 L449.45 298.16 L451.51 299.06 L453.57 300.18 L455.63 300.18 L457.7 299.06 L459.76 288.74 L461.82 284.7 L463.88 285.15 L465.94 286.05 L468 293 L470.06 281.12 L472.12 281.12 L474.18 281.12 L476.24 281.12 L478.31 281.12 L480.37 405.8 L482.43 405.8 L484.49 405.8 L486.55 405.8 L488.61 405.8 L490.67 405.8 L492.73 405.8 L494.79 405.8 L496.85 405.8 L498.92 405.8 L500.98 405.8 L503.04 405.8 L505.1 405.8 L507.16 281.12 L509.22 281.12 L511.28 314.31 L513.34 297.26 L515.4 294.57 L517.46 294.57 L519.53 294.57 L521.59 287.84 L523.65 284.7 L525.71 283.81 L527.77 279.32 L529.83 270.35 L531.89 294.57 L533.95 303.09 L536.01 302.64 L538.07 300.85 L540.14 298.16 L542.2 286.5 L544.26 273.94 L546.32 271.25 L548.38 266.76 L550.44 271.7 L552.5 280.22 L554.56 288.74 L556.62 293.68 L558.68 299.06 L560.75 295.02 L562.81 288.74 L564.87 302.64 L566.93 308.48 L568.99 305.34 L571.05 289.19 L573.11 272.15 L575.17 284.7 L577.23 288.74 L579.29 275.74 L581.36 269.46 L583.42 291.88 L585.48 317 L587.54 294.57 L589.6 287.4 L591.66 282.46 L593.72 278.2 L595.78 288.74 L597.84 290.98 L599.9 291.88 L601.97 299.51 L604.03 293 L606.09 286.95 L608.15 284.7 L610.21 286.95 L612.27 289.19 L614.33 284.7 L616.39 282.46 L618.45 288.74 L620.51 302.64 L622.58 299.06 L624.64 286.05 L626.7 278.87 L628.76 266.54 L630.82 271.25 L632.88 293 L634.94 303.54 L637 299.51 L639.06 287.84 L641.12 287.84 L643.19 308.25 L645.25 297.26 L647.31 288.74 L649.37 288.74 L651.43 283.81 L653.49 286.05 L655.55 269.9 L657.61 288.74 L659.67 306.23 L661.73 294.57 L663.8 286.95 L665.86 284.7 L667.92 278.87 L669.98 283.81 L672.04 293" fill="none" stroke="#1f77b4" stroke-width="2.0" stroke-linejoin="round"/>
<path d="M53.95 299.51a1.85 1.85 0 1 0 3.7 0a1.85 1.85 0 1 0 -3.7 0M56.01 295.02a1.85 1.85 0 1 0 3.7 0a1.85 1.85 0 1 0 -3.7 0M58.07 291.43a1.85 1.85 0 1 0 3.7 0a1.85 1.85 0 1 0 -3.7 0M60.13 286.95a1.85 1.85 0 1 0 3.7 0a1.85 1.85 0 1 0 -3.7 0M62.19 291.43a1.85 1.85 0 1 0 3.7 0a1.85 1.85 0 1 0 -3.7 0M64.26 295.92a1.85 1.85 0 1 0 3.7 0a1.85 1.85 0 1 0 -3.7 0M66.32 286.95a1.85 1.85 0 1 0 3.7 0a1.85 1.85 0 1 0 -3.7 0M68.38 277.08a1.85 1.85 0 1 0 3.7 0a1.85 1.85 0 1 0 -3.7 0M70.44 284.7a1.85 1.85 0 1 0 3.7 0a1.85 1.85 0 1 0 -3.7 0M72.5 291.43a1.85 1.85 0 1 0 3.7 0a1.85 1.85 0 1 0 -3.7 0M74.56 298.16a1.85 1.85 0 1 0 3.7 0a1.85 1.85 0 1 0 -3.7 0M76.62 284.7a1.85 1.85 0 1 0 3.7 0a1.85 1.85 0 1 0 -3.7 0M78.68 270.8a1.85 1.85 0 1 0 3.7 0a1.85 1.85 0 1 0 -3.7 0M80.74 271.7a1.85 1.85 0 1 0 3.7 0a1.85 1.85 0 1 0 -3.7 0M82.8 295.02a1.85 1.85 0 1 0 3.7 0a1.85 1.85 0 1 0 -3.7 0M84.87 303.09a1.85 1.85 0 1 0 3.7 0a1.85 1.85 0 1 0 -3.7 0M86.93 295.92a1.85 1.85 0 1 0 3.7 0a1.85 1.85 0 1 0 -3.7 0M88.99 282.46a1.85 1.85 0 1 0 3.7 0a1.85 1.85 0 1 0 -3.7 0M91.05 289.19a1.85 1.85 0 1 0 3.7 0a1.85 1.85 0 1 0 -3.7 0M93.11 286.95a1.85 1.85 0 1 0 3.7 0a1.85 1.85 0 1 0 -3.7 0M95.17 284.7a1.85 1.85 0 1 0 3.7 0a1.85 1.85 0 1 0 -3.7 0M97.23 289.19a1.85 1.85 0 1 0 3.7 0a1.85 1.85 0 1 0 -3.7 0M99.29 297.26a1.85 1.85 0 1 0 3.7 0a1.85 1.85 0 1 0 -3.7 0M101.35 269.46a1.85 1.85 0 1 0 3.7 0a1.85 1.85 0 1 0 -3.7 0M103.41 316.1a1.85 1.85 0 1 0 3.7 0a1.85 1.85 0 1 0 -3.7 0M105.48 305.34a1.85 1.85 0 1 0 3.7 0a1.85 1.85 0 1 0 -3.7 0M107.54 286.05a1.85 1.85 0 1 0 3.7 0a1.85 1.85 0 1 0 -3.7 0M109.6 282.46a1.85 1.85 0 1 0 3.7 0a1.85 1.85 0 1 0 -3.7 0M111.66 284.7a1.85 1.85 0 1 0 3.7 0a1.85 1.85 0 1 0 -3.7 0M113.72 289.19a1.85 1.85 0 1 0 3.7 0a1.85 1.85 0 1 0 -3.7 0M115.78 286.95a1.85 1.85 0 1 0 3.7 0a1.85 1.85 0 1 0 -3.7 0M117.84 288.74a1.85 1.85 0 1 0 3.7 0a1.85 1.85 0 1 0 -3.7 0M119.9 298.16a1.85 1.85 0 1 0 3.7 0a1.85 1.85 0 1 0 -3.7 0M121.96 294.12a1.85 1.85 0 1 0 3.7 0a1.85 1.85 0 1 0 -3.7 0M124.02 286.95a1.85 1.85 0 1 0 3.7 0a1.85 1.85 0 1 0 -3.7 0M126.09 284.7a1.85 1.85 0 1 0 3.7 0a1.85 1.85 0 1 0 -3.7 0M128.15 282.46a1.85 1.85 0 1 0 3.7 0a1.85 1.85 0 1 0 -3.7 0M130.21 284.7a1.85 1.85 0 1 0 3.7 0a1.85 1.85 0 1 0 -3.7 0M132.27 282.46a1.85 1.85 0 1 0 3.7 0a1.85 1.85 0 1 0 -3.7 0M134.33 280.22a1.85 1.85 0 1 0 3.7 0a1.85 1.85 0 1 0 -3.7 0M136.39 282.46a1.85 1.85 0 1 0 3.7 0a1.85 1.85 0 1 0 -3.7 0M138.45 276.18a1.85 1.85 0 1 0 3.7 0a1.85 1.85 0 1 0 -3.7 0M140.51 303.09a1.85 1.85 0 1 0 3.7 0a1.85 1.85 0 1 0 -3.7 0M142.57 289.19a1.85 1.85 0 1 0 3.7 0a1.85 1.85 0 1 0 -3.7 0M144.63 293.68a1.85 1.85 0 1 0 3.7 0a1.85 1.85 0 1 0 -3.7 0M146.7 302.2a1.85 1.85 0 1 0 3.7 0a1.85 1.85 0 1 0 -3.7 0M148.76 307.8a1.85 1.85 0 1 0 3.7 0a1.85 1.85 0 1 0 -3.7 0M150.82 291.43a1.85 1.85 0 1 0 3.7 0a1.85 1.85 0 1 0 -3.7 0M152.88 284.7a1.85 1.85 0 1 0 3.7 0a1.85 1.85 0 1 0 -3.7 0M154.94 271.7a1.85 1.85 0 1 0 3.7 0a1.85 1.85 0 1 0 -3.7 0M157 280.22a1.85 1.85 0 1 0 3.7 0a1.85 1.85 0 1 0 -3.7 0M159.06 284.7a1.85 1.85 0 1 0 3.7 0a1.85 1.85 0 1 0 -3.7 0M161.12 280.22a1.85 1.85 0 1 0 3.7 0a1.85 1.85 0 1 0 -3.7 0M163.18 269.46a1.85 1.85 0 1 0 3.7 0a1.85 1.85 0 1 0 -3.7 0M165.24 297.71a1.85 1.85 0 1 0 3.7 0a1.85 1.85 0 1 0 -3.7 0M167.31 316.1a1.85 1.85 0 1 0 3.7 0a1.85 1.85 0 1 0 -3.7 0M169.37 316.1a1.85 1.85 0 1 0 3.7 0a1.85 1.85 0 1 0 -3.7 0M171.43 316.1a1.85 1.85 0 1 0 3.7 0a1.85 1.85 0 1 0 -3.7 0M173.49 316.1a1.85 1.85 0 1 0 3.7 0a1.85 1.85 0 1 0 -3.7 0M175.55 318.34a1.85 1.85 0 1 0 3.7 0a1.85 1.85 0 1 0 -3.7 0M177.61 405.8a1.85 1.85 0 1 0 3.7 0a1.85 1.85 0 1 0 -3.7 0M179.67 405.8a1.85 1.85 0 1 0 3.7 0a1.85 1.85 0 1 0 -3.7 0M181.73 405.8a1.85 1.85 0 1 0 3.7 0a1.85 1.85 0 1 0 -3.7 0M183.79 405.8a1.85 1.85 0 1 0 3.7 0a1.85 1.85 0 1 0 -3.7 0M185.85 405.8a1.85 1.85 0 1 0 3.7 0a1.85 1.85 0 1 0 -3.7 0M187.92 405.8a1.85 1.85 0 1 0 3.7 0a1.85 1.85 0 1 0 -3.7 0M189.98 405.8a1.85 1.85 0 1 0 3.7 0a1.85 1.85 0 1 0 -3.7 0M192.04 306.23a1.85 1.85 0 1 0 3.7 0a1.85 1.85 0 1 0 -3.7 0M194.1 297.26a1.85 1.85 0 1 0 3.7 0a1.85 1.85 0 1 0 -3.7 0M196.16 294.12a1.85 1.85 0 1 0 3.7 0a1.85 1.85 0 1 0 -3.7 0M198.22 295.02a1.85 1.85 0 1 0 3.7 0a1.85 1.85 0 1 0 -3.7 0M200.28 294.12a1.85 1.85 0 1 0 3.7 0a1.85 1.85 0 1 0 -3.7 0M202.34 292.33a1.85 1.85 0 1 0 3.7 0a1.85 1.85 0 1 0 -3.7 0M204.4 276.63a1.85 1.85 0 1 0 3.7 0a1.85 1.85 0 1 0 -3.7 0M206.46 276.63a1.85 1.85 0 1 0 3.7 0a1.85 1.85 0 1 0 -3.7 0M208.53 279.32a1.85 1.85 0 1 0 3.7 0a1.85 1.85 0 1 0 -3.7 0M210.59 279.77a1.85 1.85 0 1 0 3.7 0a1.85 1.85 0 1 0 -3.7 0M212.65 286.05a1.85 1.85 0 1 0 3.7 0a1.85 1.85 0 1 0 -3.7 0M214.71 278.2a1.85 1.85 0 1 0 3.7 0a1.85 1.85 0 1 0 -3.7 0M216.77 293.23a1.85 1.85 0 1 0 3.7 0a1.85 1.85 0 1 0 -3.7 0M218.83 299.06a1.85 1.85 0 1 0 3.7 0a1.85 1.85 0 1 0 -3.7 0M220.89 293.23a1.85 1.85 0 1 0 3.7 0a1.85 1.85 0 1 0 -3.7 0M222.95 286.05a1.85 1.85 0 1 0 3.7 0a1.85 1.85 0 1 0 -3.7 0M225.01 284.7a1.85 1.85 0 1 0 3.7 0a1.85 1.85 0 1 0 -3.7 0M227.07 297.71a1.85 1.85 0 1 0 3.7 0a1.85 1.85 0 1 0 -3.7 0M229.14 294.57a1.85 1.85 0 1 0 3.7 0a1.85 1.85 0 1 0 -3.7 0M231.2 287.84a1.85 1.85 0 1 0 3.7 0a1.85 1.85 0 1 0 -3.7 0M233.26 283.81a1.85 1.85 0 1 0 3.7 0a1.85 1.85 0 1 0 -3.7 0M235.32 277.08a1.85 1.85 0 1 0 3.7 0a1.85 1.85 0 1 0 -3.7 0M237.38 295.02a1.85 1.85 0 1 0 3.7 0a1.85 1.85 0 1 0 -3.7 0M239.44 302.2a1.85 1.85 0 1 0 3.7 0a1.85 1.85 0 1 0 -3.7 0M241.5 298.16a1.85 1.85 0 1 0 3.7 0a1.85 1.85 0 1 0 -3.7 0M243.56 289.19a1.85 1.85 0 1 0 3.7 0a1.85 1.85 0 1 0 -3.7 0M245.62 284.7a1.85 1.85 0 1 0 3.7 0a1.85 1.85 0 1 0 -3.7 0M247.68 278.87a1.85 1.85 0 1 0 3.7 0a1.85 1.85 0 1 0 -3.7 0M249.75 266.76a1.85 1.85 0 1 0 3.7 0a1.85 1.85 0 1 0 -3.7 0M251.81 284.7a1.85 1.85 0 1 0 3.7 0a1.85 1.85 0 1 0 -3.7 0M253.87 289.19a1.85 1.85 0 1 0 3.7 0a1.85 1.85 0 1 0 -3.7 0M255.93 298.16a1.85 1.85 0 1 0 3.7 0a1.85 1.85 0 1 0 -3.7 0M257.99 303.54a1.85 1.85 0 1 0 3.7 0a1.85 1.85 0 1 0 -3.7 0M260.05 304.89a1.85 1.85 0 1 0 3.7 0a1.85 1.85 0 1 0 -3.7 0M262.11 294.12a1.85 1.85 0 1 0 3.7 0a1.85 1.85 0 1 0 -3.7 0M264.17 289.19a1.85 1.85 0 1 0 3.7 0a1.85 1.85 0 1 0 -3.7 0M266.23 284.7a1.85 1.85 0 1 0 3.7 0a1.85 1.85 0 1 0 -3.7 0M268.29 273.94a1.85 1.85 0 1 0 3.7 0a1.85 1.85 0 1 0 -3.7 0M270.36 291.88a1.85 1.85 0 1 0 3.7 0a1.85 1.85 0 1 0 -3.7 0M272.42 304.44a1.85 1.85 0 1 0 3.7 0a1.85 1.85 0 1 0 -3.7 0M274.48 289.19a1.85 1.85 0 1 0 3.7 0a1.85 1.85 0 1 0 -3.7 0M276.54 273.04a1.85 1.85 0 1 0 3.7 0a1.85 1.85 0 1 0 -3.7 0M278.6 272.6a1.85 1.85 0 1 0 3.7 0a1.85 1.85 0 1 0 -3.7 0M280.66 284.7a1.85 1.85 0 1 0 3.7 0a1.85 1.85 0 1 0 -3.7 0M282.72 289.19a1.85 1.85 0 1 0 3.7 0a1.85 1.85 0 1 0 -3.7 0M284.78 293.68a1.85 1.85 0 1 0 3.7 0a1.85 1.85 0 1 0 -3.7 0M286.84 284.7a1.85 1.85 0 1 0 3.7 0a1.85 1.85 0 1 0 -3.7 0M288.9 277.98a1.85 1.85 0 1 0 3.7 0a1.85 1.85 0 1 0 -3.7 0M290.97 269.01a1.85 1.85 0 1 0 3.7 0a1.85 1.85 0 1 0 -3.7 0M293.03 294.12a1.85 1.85 0 1 0 3.7 0a1.85 1.85 0 1 0 -3.7 0M295.09 315.65a1.85 1.85 0 1 0 3.7 0a1.85 1.85 0 1 0 -3.7 0M297.15 299.06a1.85 1.85 0 1 0 3.7 0a1.85 1.85 0 1 0 -3.7 0M299.21 289.19a1.85 1.85 0 1 0 3.7 0a1.85 1.85 0 1 0 -3.7 0M301.27 286.05a1.85 1.85 0 1 0 3.7 0a1.85 1.85 0 1 0 -3.7 0M303.33 284.7a1.85 1.85 0 1 0 3.7 0a1.85 1.85 0 1 0 -3.7 0M305.39 286.95a1.85 1.85 0 1 0 3.7 0a1.85 1.85 0 1 0 -3.7 0M307.45 290.98a1.85 1.85 0 1 0 3.7 0a1.85 1.85 0 1 0 -3.7 0M309.51 305.78a1.85 1.85 0 1 0 3.7 0a1.85 1.85 0 1 0 -3.7 0M311.58 289.19a1.85 1.85 0 1 0 3.7 0a1.85 1.85 0 1 0 -3.7 0M313.64 290.09a1.85 1.85 0 1 0 3.7 0a1.85 1.85 0 1 0 -3.7 0M315.7 290.09a1.85 1.85 0 1 0 3.7 0a1.85 1.85 0 1 0 -3.7 0M317.76 286.05a1.85 1.85 0 1 0 3.7 0a1.85 1.85 0 1 0 -3.7 0M319.82 289.19a1.85 1.85 0 1 0 3.7 0a1.85 1.85 0 1 0 -3.7 0M321.88 293.68a1.85 1.85 0 1 0 3.7 0a1.85 1.85 0 1 0 -3.7 0M323.94 300.18a1.85 1.85 0 1 0 3.7 0a1.85 1.85 0 1 0 -3.7 0M326 288.74a1.85 1.85 0 1 0 3.7 0a1.85 1.85 0 1 0 -3.7 0M328.06 270.35a1.85 1.85 0 1 0 3.7 0a1.85 1.85 0 1 0 -3.7 0M330.12 271.25a1.85 1.85 0 1 0 3.7 0a1.85 1.85 0 1 0 -3.7 0M332.19 290.98a1.85 1.85 0 1 0 3.7 0a1.85 1.85 0 1 0 -3.7 0M334.25 299.51a1.85 1.85 0 1 0 3.7 0a1.85 1.85 0 1 0 -3.7 0M336.31 291.88a1.85 1.85 0 1 0 3.7 0a1.85 1.85 0 1 0 -3.7 0M338.37 284.7a1.85 1.85 0 1 0 3.7 0a1.85 1.85 0 1 0 -3.7 0M340.43 289.19a1.85 1.85 0 1 0 3.7 0a1.85 1.85 0 1 0 -3.7 0M342.49 272.15a1.85 1.85 0 1 0 3.7 0a1.85 1.85 0 1 0 -3.7 0M344.55 276.63a1.85 1.85 0 1 0 3.7 0a1.85 1.85 0 1 0 -3.7 0M346.61 278.87a1.85 1.85 0 1 0 3.7 0a1.85 1.85 0 1 0 -3.7 0M348.67 295.02a1.85 1.85 0 1 0 3.7 0a1.85 1.85 0 1 0 -3.7 0M350.73 305.34a1.85 1.85 0 1 0 3.7 0a1.85 1.85 0 1 0 -3.7 0M352.8 282.91a1.85 1.85 0 1 0 3.7 0a1.85 1.85 0 1 0 -3.7 0M354.86 284.7a1.85 1.85 0 1 0 3.7 0a1.85 1.85 0 1 0 -3.7 0M356.92 289.19a1.85 1.85 0 1 0 3.7 0a1.85 1.85 0 1 0 -3.7 0M358.98 278.87a1.85 1.85 0 1 0 3.7 0a1.85 1.85 0 1 0 -3.7 0M361.04 291.88a1.85 1.85 0 1 0 3.7 0a1.85 1.85 0 1 0 -3.7 0M363.1 282.91a1.85 1.85 0 1 0 3.7 0a1.85 1.85 0 1 0 -3.7 0M365.16 287.84a1.85 1.85 0 1 0 3.7 0a1.85 1.85 0 1 0 -3.7 0M367.22 290.54a1.85 1.85 0 1 0 3.7 0a1.85 1.85 0 1 0 -3.7 0M369.28 286.05a1.85 1.85 0 1 0 3.7 0a1.85 1.85 0 1 0 -3.7 0M371.34 288.74a1.85 1.85 0 1 0 3.7 0a1.85 1.85 0 1 0 -3.7 0M373.41 305.78a1.85 1.85 0 1 0 3.7 0a1.85 1.85 0 1 0 -3.7 0M375.47 293.68a1.85 1.85 0 1 0 3.7 0a1.85 1.85 0 1 0 -3.7 0M377.53 283.81a1.85 1.85 0 1 0 3.7 0a1.85 1.85 0 1 0 -3.7 0M379.59 270.35a1.85 1.85 0 1 0 3.7 0a1.85 1.85 0 1 0 -3.7 0M381.65 271.7a1.85 1.85 0 1 0 3.7 0a1.85 1.85 0 1 0 -3.7 0M383.71 290.98a1.85 1.85 0 1 0 3.7 0a1.85 1.85 0 1 0 -3.7 0M385.77 303.09a1.85 1.85 0 1 0 3.7 0a1.85 1.85 0 1 0 -3.7 0M387.83 288.74a1.85 1.85 0 1 0 3.7 0a1.85 1.85 0 1 0 -3.7 0M389.89 291.88a1.85 1.85 0 1 0 3.7 0a1.85 1.85 0 1 0 -3.7 0M391.95 302.2a1.85 1.85 0 1 0 3.7 0a1.85 1.85 0 1 0 -3.7 0M394.02 307.8a1.85 1.85 0 1 0 3.7 0a1.85 1.85 0 1 0 -3.7 0M396.08 293.68a1.85 1.85 0 1 0 3.7 0a1.85 1.85 0 1 0 -3.7 0M398.14 273.49a1.85 1.85 0 1 0 3.7 0a1.85 1.85 0 1 0 -3.7 0M400.2 284.7a1.85 1.85 0 1 0 3.7 0a1.85 1.85 0 1 0 -3.7 0M402.26 289.19a1.85 1.85 0 1 0 3.7 0a1.85 1.85 0 1 0 -3.7 0M404.32 280.22a1.85 1.85 0 1 0 3.7 0a1.85 1.85 0 1 0 -3.7 0M406.38 288.74a1.85 1.85 0 1 0 3.7 0a1.85 1.85 0 1 0 -3.7 0M408.44 286.05a1.85 1.85 0 1 0 3.7 0a1.85 1.85 0 1 0 -3.7 0M410.5 269.46a1.85 1.85 0 1 0 3.7 0a1.85 1.85 0 1 0 -3.7 0M412.56 269.46a1.85 1.85 0 1 0 3.7 0a1.85 1.85 0 1 0 -3.7 0M414.63 317a1.85 1.85 0 1 0 3.7 0a1.85 1.85 0 1 0 -3.7 0M416.69 315.65a1.85 1.85 0 1 0 3.7 0a1.85 1.85 0 1 0 -3.7 0M418.75 315.65a1.85 1.85 0 1 0 3.7 0a1.85 1.85 0 1 0 -3.7 0M420.81 310.27a1.85 1.85 0 1 0 3.7 0a1.85 1.85 0 1 0 -3.7 0M422.87 294.57a1.85 1.85 0 1 0 3.7 0a1.85 1.85 0 1 0 -3.7 0M424.93 298.16a1.85 1.85 0 1 0 3.7 0a1.85 1.85 0 1 0 -3.7 0M426.99 301.3a1.85 1.85 0 1 0 3.7 0a1.85 1.85 0 1 0 -3.7 0M429.05 279.77a1.85 1.85 0 1 0 3.7 0a1.85 1.85 0 1 0 -3.7 0M431.11 275.74a1.85 1.85 0 1 0 3.7 0a1.85 1.85 0 1 0 -3.7 0M433.17 277.08a1.85 1.85 0 1 0 3.7 0a1.85 1.85 0 1 0 -3.7 0M435.24 281.79a1.85 1.85 0 1 0 3.7 0a1.85 1.85 0 1 0 -3.7 0M437.3 279.77a1.85 1.85 0 1 0 3.7 0a1.85 1.85 0 1 0 -3.7 0M439.36 278.87a1.85 1.85 0 1 0 3.7 0a1.85 1.85 0 1 0 -3.7 0M441.42 286.05a1.85 1.85 0 1 0 3.7 0a1.85 1.85 0 1 0 -3.7 0M443.48 279.32a1.85 1.85 0 1 0 3.7 0a1.85 1.85 0 1 0 -3.7 0M445.54 279.32a1.85 1.85 0 1 0 3.7 0a1.85 1.85 0 1 0 -3.7 0M447.6 298.16a1.85 1.85 0 1 0 3.7 0a1.85 1.85 0 1 0 -3.7 0M449.66 299.06a1.85 1.85 0 1 0 3.7 0a1.85 1.85 0 1 0 -3.7 0M451.72 300.18a1.85 1.85 0 1 0 3.7 0a1.85 1.85 0 1 0 -3.7 0M453.78 300.18a1.85 1.85 0 1 0 3.7 0a1.85 1.85 0 1 0 -3.7 0M455.85 299.06a1.85 1.85 0 1 0 3.7 0a1.85 1.85 0 1 0 -3.7 0M457.91 288.74a1.85 1.85 0 1 0 3.7 0a1.85 1.85 0 1 0 -3.7 0M459.97 284.7a1.85 1.85 0 1 0 3.7 0a1.85 1.85 0 1 0 -3.7 0M462.03 285.15a1.85 1.85 0 1 0 3.7 0a1.85 1.85 0 1 0 -3.7 0M464.09 286.05a1.85 1.85 0 1 0 3.7 0a1.85 1.85 0 1 0 -3.7 0M466.15 293a1.85 1.85 0 1 0 3.7 0a1.85 1.85 0 1 0 -3.7 0M468.21 281.12a1.85 1.85 0 1 0 3.7 0a1.85 1.85 0 1 0 -3.7 0M470.27 281.12a1.85 1.85 0 1 0 3.7 0a1.85 1.85 0 1 0 -3.7 0M472.33 281.12a1.85 1.85 0 1 0 3.7 0a1.85 1.85 0 1 0 -3.7 0M474.39 281.12a1.85 1.85 0 1 0 3.7 0a1.85 1.85 0 1 0 -3.7 0M476.46 281.12a1.85 1.85 0 1 0 3.7 0a1.85 1.85 0 1 0 -3.7 0M478.52 405.8a1.85 1.85 0 1 0 3.7 0a1.85 1.85 0 1 0 -3.7 0M480.58 405.8a1.85 1.85 0 1 0 3.7 0a1.85 1.85 0 1 0 -3.7 0M482.64 405.8a1.85 1.85 0 1 0 3.7 0a1.85 1.85 0 1 0 -3.7 0M484.7 405.8a1.85 1.85 0 1 0 3.7 0a1.85 1.85 0 1 0 -3.7 0M486.76 405.8a1.85 1.85 0 1 0 3.7 0a1.85 1.85 0 1 0 -3.7 0M488.82 405.8a1.85 1.85 0 1 0 3.7 0a1.85 1.85 0 1 0 -3.7 0M490.88 405.8a1.85 1.85 0 1 0 3.7 0a1.85 1.85 0 1 0 -3.7 0M492.94 405.8a1.85 1.85 0 1 0 3.7 0a1.85 1.85 0 1 0 -3.7 0M495 405.8a1.85 1.85 0 1 0 3.7 0a1.85 1.85 0 1 0 -3.7 0M497.07 405.8a1.85 1.85 0 1 0 3.7 0a1.85 1.85 0 1 0 -3.7 0M499.13 405.8a1.85 1.85 0 1 0 3.7 0a1.85 1.85 0 1 0 -3.7 0M501.19 405.8a1.85 1.85 0 1 0 3.7 0a1.85 1.85 0 1 0 -3.7 0M503.25 405.8a1.85 1.85 0 1 0 3.7 0a1.85 1.85 0 1 0 -3.7 0M505.31 281.12a1.85 1.85 0 1 0 3.7 0a1.85 1.85 0 1 0 -3.7 0M507.37 281.12a1.85 1.85 0 1 0 3.7 0a1.85 1.85 0 1 0 -3.7 0M509.43 314.31a1.85 1.85 0 1 0 3.7 0a1.85 1.85 0 1 0 -3.7 0M511.49 297.26a1.85 1.85 0 1 0 3.7 0a1.85 1.85 0 1 0 -3.7 0M513.55 294.57a1.85 1.85 0 1 0 3.7 0a1.85 1.85 0 1 0 -3.7 0M515.61 294.57a1.85 1.85 0 1 0 3.7 0a1.85 1.85 0 1 0 -3.7 0M517.68 294.57a1.85 1.85 0 1 0 3.7 0a1.85 1.85 0 1 0 -3.7 0M519.74 287.84a1.85 1.85 0 1 0 3.7 0a1.85 1.85 0 1 0 -3.7 0M521.8 284.7a1.85 1.85 0 1 0 3.7 0a1.85 1.85 0 1 0 -3.7 0M523.86 283.81a1.85 1.85 0 1 0 3.7 0a1.85 1.85 0 1 0 -3.7 0M525.92 279.32a1.85 1.85 0 1 0 3.7 0a1.85 1.85 0 1 0 -3.7 0M527.98 270.35a1.85 1.85 0 1 0 3.7 0a1.85 1.85 0 1 0 -3.7 0M530.04 294.57a1.85 1.85 0 1 0 3.7 0a1.85 1.85 0 1 0 -3.7 0M532.1 303.09a1.85 1.85 0 1 0 3.7 0a1.85 1.85 0 1 0 -3.7 0M534.16 302.64a1.85 1.85 0 1 0 3.7 0a1.85 1.85 0 1 0 -3.7 0M536.22 300.85a1.85 1.85 0 1 0 3.7 0a1.85 1.85 0 1 0 -3.7 0M538.29 298.16a1.85 1.85 0 1 0 3.7 0a1.85 1.85 0 1 0 -3.7 0M540.35 286.5a1.85 1.85 0 1 0 3.7 0a1.85 1.85 0 1 0 -3.7 0M542.41 273.94a1.85 1.85 0 1 0 3.7 0a1.85 1.85 0 1 0 -3.7 0M544.47 271.25a1.85 1.85 0 1 0 3.7 0a1.85 1.85 0 1 0 -3.7 0M546.53 266.76a1.85 1.85 0 1 0 3.7 0a1.85 1.85 0 1 0 -3.7 0M548.59 271.7a1.85 1.85 0 1 0 3.7 0a1.85 1.85 0 1 0 -3.7 0M550.65 280.22a1.85 1.85 0 1 0 3.7 0a1.85 1.85 0 1 0 -3.7 0M552.71 288.74a1.85 1.85 0 1 0 3.7 0a1.85 1.85 0 1 0 -3.7 0M554.77 293.68a1.85 1.85 0 1 0 3.7 0a1.85 1.85 0 1 0 -3.7 0M556.83 299.06a1.85 1.85 0 1 0 3.7 0a1.85 1.85 0 1 0 -3.7 0M558.9 295.02a1.85 1.85 0 1 0 3.7 0a1.85 1.85 0 1 0 -3.7 0M560.96 288.74a1.85 1.85 0 1 0 3.7 0a1.85 1.85 0 1 0 -3.7 0M563.02 302.64a1.85 1.85 0 1 0 3.7 0a1.85 1.85 0 1 0 -3.7 0M565.08 308.48a1.85 1.85 0 1 0 3.7 0a1.85 1.85 0 1 0 -3.7 0M567.14 305.34a1.85 1.85 0 1 0 3.7 0a1.85 1.85 0 1 0 -3.7 0M569.2 289.19a1.85 1.85 0 1 0 3.7 0a1.85 1.85 0 1 0 -3.7 0M571.26 272.15a1.85 1.85 0 1 0 3.7 0a1.85 1.85 0 1 0 -3.7 0M573.32 284.7a1.85 1.85 0 1 0 3.7 0a1.85 1.85 0 1 0 -3.7 0M575.38 288.74a1.85 1.85 0 1 0 3.7 0a1.85 1.85 0 1 0 -3.7 0M577.44 275.74a1.85 1.85 0 1 0 3.7 0a1.85 1.85 0 1 0 -3.7 0M579.5 269.46a1.85 1.85 0 1 0 3.7 0a1.85 1.85 0 1 0 -3.7 0M581.57 291.88a1.85 1.85 0 1 0 3.7 0a1.85 1.85 0 1 0 -3.7 0M583.63 317a1.85 1.85 0 1 0 3.7 0a1.85 1.85 0 1 0 -3.7 0M585.69 294.57a1.85 1.85 0 1 0 3.7 0a1.85 1.85 0 1 0 -3.7 0M587.75 287.4a1.85 1.85 0 1 0 3.7 0a1.85 1.85 0 1 0 -3.7 0M589.81 282.46a1.85 1.85 0 1 0 3.7 0a1.85 1.85 0 1 0 -3.7 0M591.87 278.2a1.85 1.85 0 1 0 3.7 0a1.85 1.85 0 1 0 -3.7 0M593.93 288.74a1.85 1.85 0 1 0 3.7 0a1.85 1.85 0 1 0 -3.7 0M595.99 290.98a1.85 1.85 0 1 0 3.7 0a1.85 1.85 0 1 0 -3.7 0M598.05 291.88a1.85 1.85 0 1 0 3.7 0a1.85 1.85 0 1 0 -3.7 0M600.12 299.51a1.85 1.85 0 1 0 3.7 0a1.85 1.85 0 1 0 -3.7 0M602.18 293a1.85 1.85 0 1 0 3.7 0a1.85 1.85 0 1 0 -3.7 0M604.24 286.95a1.85 1.85 0 1 0 3.7 0a1.85 1.85 0 1 0 -3.7 0M606.3 284.7a1.85 1.85 0 1 0 3.7 0a1.85 1.85 0 1 0 -3.7 0M608.36 286.95a1.85 1.85 0 1 0 3.7 0a1.85 1.85 0 1 0 -3.7 0M610.42 289.19a1.85 1.85 0 1 0 3.7 0a1.85 1.85 0 1 0 -3.7 0M612.48 284.7a1.85 1.85 0 1 0 3.7 0a1.85 1.85 0 1 0 -3.7 0M614.54 282.46a1.85 1.85 0 1 0 3.7 0a1.85 1.85 0 1 0 -3.7 0M616.6 288.74a1.85 1.85 0 1 0 3.7 0a1.85 1.85 0 1 0 -3.7 0M618.66 302.64a1.85 1.85 0 1 0 3.7 0a1.85 1.85 0 1 0 -3.7 0M620.73 299.06a1.85 1.85 0 1 0 3.7 0a1.85 1.85 0 1 0 -3.7 0M622.79 286.05a1.85 1.85 0 1 0 3.7 0a1.85 1.85 0 1 0 -3.7 0M624.85 278.87a1.85 1.85 0 1 0 3.7 0a1.85 1.85 0 1 0 -3.7 0M626.91 266.54a1.85 1.85 0 1 0 3.7 0a1.85 1.85 0 1 0 -3.7 0M628.97 271.25a1.85 1.85 0 1 0 3.7 0a1.85 1.85 0 1 0 -3.7 0M631.03 293a1.85 1.85 0 1 0 3.7 0a1.85 1.85 0 1 0 -3.7 0M633.09 303.54a1.85 1.85 0 1 0 3.7 0a1.85 1.85 0 1 0 -3.7 0M635.15 299.51a1.85 1.85 0 1 0 3.7 0a1.85 1.85 0 1 0 -3.7 0M637.21 287.84a1.85 1.85 0 1 0 3.7 0a1.85 1.85 0 1 0 -3.7 0M639.27 287.84a1.85 1.85 0 1 0 3.7 0a1.85 1.85 0 1 0 -3.7 0M641.34 308.25a1.85 1.85 0 1 0 3.7 0a1.85 1.85 0 1 0 -3.7 0M643.4 297.26a1.85 1.85 0 1 0 3.7 0a1.85 1.85 0 1 0 -3.7 0M645.46 288.74a1.85 1.85 0 1 0 3.7 0a1.85 1.85 0 1 0 -3.7 0M647.52 288.74a1.85 1.85 0 1 0 3.7 0a1.85 1.85 0 1 0 -3.7 0M649.58 283.81a1.85 1.85 0 1 0 3.7 0a1.85 1.85 0 1 0 -3.7 0M651.64 286.05a1.85 1.85 0 1 0 3.7 0a1.85 1.85 0 1 0 -3.7 0M653.7 269.9a1.85 1.85 0 1 0 3.7 0a1.85 1.85 0 1 0 -3.7 0M655.76 288.74a1.85 1.85 0 1 0 3.7 0a1.85 1.85 0 1 0 -3.7 0M657.82 306.23a1.85 1.85 0 1 0 3.7 0a1.85 1.85 0 1 0 -3.7 0M659.88 294.57a1.85 1.85 0 1 0 3.7 0a1.85 1.85 0 1 0 -3.7 0M661.95 286.95a1.85 1.85 0 1 0 3.7 0a1.85 1.85 0 1 0 -3.7 0M664.01 284.7a1.85 1.85 0 1 0 3.7 0a1.85 1.85 0 1 0 -3.7 0M666.07 278.87a1.85 1.85 0 1 0 3.7 0a1.85 1.85 0 1 0 -3.7 0M668.13 283.81a1.85 1.85 0 1 0 3.7 0a1.85 1.85 0 1 0 -3.7 0M670.19 293a1.85 1.85 0 1 0 3.7 0a1.85 1.85 0 1 0 -3.7 0" fill="#1f77b4"/>
</g>
<g clip-path="url(#c1)">
<path d="M55.8 267.21 L57.86 288.74 L59.92 295.92 L61.98 280.22 L64.04 286.05 L66.11 287.84 L68.17 289.19 L70.23 293 L72.29 298.16 L74.35 308.92 L76.41 297.26 L78.47 276.63 L80.53 276.18 L82.59 280.22 L84.65 286.05 L86.72 283.81 L88.78 283.81 L90.84 270.35 L92.9 306.23 L94.96 290.98 L97.02 271.25 L99.08 266.32 L101.14 297.26 L103.2 293.68 L105.26 278.87 L107.33 285.15 L109.39 276.63 L111.45 273.94 L113.51 284.7 L115.57 300.4 L117.63 274.61 L119.69 288.74 L121.75 296.59 L123.81 278.87 L125.87 284.7 L127.94 274.39 L130 282.46 L132.06 323.72 L134.12 273.49 L136.18 267.66 L138.24 284.7 L140.3 293.68 L142.36 284.7 L144.42 312.06 L146.48 286.95 L148.55 277.98 L150.61 284.7 L152.67 291.43 L154.73 305.34 L156.79 295.92 L158.85 291.43 L160.91 282.46 L162.97 275.74 L165.03 284.7 L167.09 291.88 L169.16 295.02 L171.22 286.95 L173.28 294.12 L175.34 282.91 L177.4 276.63 L179.46 272.6 L181.52 270.8 L183.58 270.35 L185.64 405.8 L187.7 405.8 L189.77 405.8 L191.83 330.9 L193.89 305.34 L195.95 297.26 L198.01 290.76 L200.07 304.89 L202.13 287.84 L204.19 278.87 L206.25 278.2 L208.31 286.5 L210.38 298.16 L212.44 301.3 L214.5 291.88 L216.56 282.91 L218.62 270.35 L220.68 270.8 L222.74 290.09 L224.8 311.39 L226.86 290.54 L228.92 289.19 L230.99 286.95 L233.05 291.43 L235.11 286.05 L237.17 278.87 L239.23 278.2 L241.29 291.88 L243.35 312.96 L245.41 288.74 L247.47 278.87 L249.53 273.49 L251.6 288.74 L253.66 290.09 L255.72 298.16 L257.78 278.87 L259.84 271.7 L261.9 280.22 L263.96 291.88 L266.02 307.8 L268.08 267.66 L270.14 283.81 L272.21 312.51 L274.27 302.2 L276.33 323.72 L278.39 273.94 L280.45 273.49 L282.51 281.12 L284.57 270.35 L286.63 287.84 L288.69 305.34 L290.75 287.84 L292.82 284.7 L294.88 290.98 L296.94 295.02 L299 273.49 L301.06 278.87 L303.12 281.79 L305.18 286.5 L307.24 301.75 L309.3 281.79 L311.36 286.95 L313.43 284.7 L315.49 290.98 L317.55 287.84 L319.61 282.46 L321.67 270.35 L323.73 303.54 L325.79 286.05 L327.85 288.74 L329.91 283.81 L331.97 295.47 L334.04 291.88 L336.1 286.05 L338.16 284.7 L340.22 275.29 L342.28 301.3 L344.34 283.81 L346.4 275.29 L348.46 287.84 L350.52 304.89 L352.58 279.77 L354.65 280.67 L356.71 286.05 L358.77 314.31 L360.83 269.9 L362.89 284.26 L364.95 299.51 L367.01 289.19 L369.07 284.7 L371.13 282.46 L373.19 276.63 L375.26 287.84 L377.32 307.8 L379.38 278.87 L381.44 273.49 L383.5 275.74 L385.56 288.74 L387.62 304.44 L389.68 288.74 L391.74 286.05 L393.8 291.88 L395.87 298.16 L397.93 303.09 L399.99 288.74 L402.05 280.22 L404.11 271.25 L406.17 274.61 L408.23 303.09 L410.29 306.23 L412.35 297.26 L414.41 297.26 L416.48 288.74 L418.54 284.7 L420.6 268.11 L422.66 318.57 L424.72 308.48 L426.78 304.89 L428.84 273.49 L430.9 277.08 L432.96 276.18 L435.02 287.4 L437.09 288.29 L439.15 279.77 L441.21 276.63 L443.27 262.28 L445.33 316.55 L447.39 309.82 L449.45 320.59 L451.51 300.18 L453.57 291.43 L455.63 294.12 L457.7 277.53 L459.76 293 L461.82 282.46 L463.88 276.18 L465.94 283.36 L468 281.79 L470.06 273.94 L472.12 301.75 L474.18 305.34 L476.24 300.18 L478.31 297.26 L480.37 295.02 L482.43 293.68 L484.49 292.33 L486.55 292.33 L488.61 405.8 L490.67 405.8 L492.73 405.8 L494.79 405.8 L496.85 405.8 L498.92 291.88 L500.98 290.54 L503.04 288.74 L505.1 288.74 L507.16 313.86 L509.22 301.3 L511.28 294.12 L513.34 285.15 L515.4 290.09 L517.46 277.08 L519.53 287.84 L521.59 291.43 L523.65 293.68 L525.71 283.36 L527.77 284.26 L529.83 263.4 L531.89 301.3 L533.95 306.23 L536.01 299.06 L538.07 288.74 L540.14 268.56 L542.2 265.42 L544.26 269.9 L546.32 290.98 L548.38 297.26 L550.44 295.02 L552.5 291.43 L554.56 303.77 L556.62 305.34 L558.68 288.74 L560.75 269.46 L562.81 278.87 L564.87 280.67 L566.93 299.06 L568.99 307.13 L571.05 300.4 L573.11 288.74 L575.17 277.08 L577.23 286.95 L579.29 284.7 L581.36 286.95 L583.42 282.46 L585.48 284.7 L587.54 286.95 L589.6 283.81 L591.66 273.04 L593.72 283.81 L595.78 299.51 L597.84 286.05 L599.9 276.63 L601.97 274.61 L604.03 298.16 L606.09 311.39 L608.15 288.74 L610.21 267.66 L612.27 307.13 L614.33 283.81 L616.39 267.21 L618.45 284.7 L620.51 293.68 L622.58 307.58 L624.64 298.61 L626.7 284.7 L628.76 280.67 L630.82 290.09 L632.88 299.06 L634.94 283.81 L637 278.87 L639.06 283.81 L641.12 272.15 L643.19 291.88 L645.25 296.37 L647.31 283.81 L649.37 265.87 L651.43 303.09 L653.49 299.51 L655.55 294.57 L657.61 288.74 L659.67 283.81 L661.73 278.87 L663.8 268.56 L665.86 273.94 L667.92 274.61 L669.98 288.74 L672.04 303.09" fill="none" stroke="#2ca02c" stroke-width="2.0" stroke-linejoin="round"/>
<path d="M53.95 267.21a1.85 1.85 0 1 0 3.7 0a1.85 1.85 0 1 0 -3.7 0M56.01 288.74a1.85 1.85 0 1 0 3.7 0a1.85 1.85 0 1 0 -3.7 0M58.07 295.92a1.85 1.85 0 1 0 3.7 0a1.85 1.85 0 1 0 -3.7 0M60.13 280.22a1.85 1.85 0 1 0 3.7 0a1.85 1.85 0 1 0 -3.7 0M62.19 286.05a1.85 1.85 0 1 0 3.7 0a1.85 1.85 0 1 0 -3.7 0M64.26 287.84a1.85 1.85 0 1 0 3.7 0a1.85 1.85 0 1 0 -3.7 0M66.32 289.19a1.85 1.85 0 1 0 3.7 0a1.85 1.85 0 1 0 -3.7 0M68.38 293a1.85 1.85 0 1 0 3.7 0a1.85 1.85 0 1 0 -3.7 0M70.44 298.16a1.85 1.85 0 1 0 3.7 0a1.85 1.85 0 1 0 -3.7 0M72.5 308.92a1.85 1.85 0 1 0 3.7 0a1.85 1.85 0 1 0 -3.7 0M74.56 297.26a1.85 1.85 0 1 0 3.7 0a1.85 1.85 0 1 0 -3.7 0M76.62 276.63a1.85 1.85 0 1 0 3.7 0a1.85 1.85 0 1 0 -3.7 0M78.68 276.18a1.85 1.85 0 1 0 3.7 0a1.85 1.85 0 1 0 -3.7 0M80.74 280.22a1.85 1.85 0 1 0 3.7 0a1.85 1.85 0 1 0 -3.7 0M82.8 286.05a1.85 1.85 0 1 0 3.7 0a1.85 1.85 0 1 0 -3.7 0M84.87 283.81a1.85 1.85 0 1 0 3.7 0a1.85 1.85 0 1 0 -3.7 0M86.93 283.81a1.85 1.85 0 1 0 3.7 0a1.85 1.85 0 1 0 -3.7 0M88.99 270.35a1.85 1.85 0 1 0 3.7 0a1.85 1.85 0 1 0 -3.7 0M91.05 306.23a1.85 1.85 0 1 0 3.7 0a1.85 1.85 0 1 0 -3.7 0M93.11 290.98a1.85 1.85 0 1 0 3.7 0a1.85 1.85 0 1 0 -3.7 0M95.17 271.25a1.85 1.85 0 1 0 3.7 0a1.85 1.85 0 1 0 -3.7 0M97.23 266.32a1.85 1.85 0 1 0 3.7 0a1.85 1.85 0 1 0 -3.7 0M99.29 297.26a1.85 1.85 0 1 0 3.7 0a1.85 1.85 0 1 0 -3.7 0M101.35 293.68a1.85 1.85 0 1 0 3.7 0a1.85 1.85 0 1 0 -3.7 0M103.41 278.87a1.85 1.85 0 1 0 3.7 0a1.85 1.85 0 1 0 -3.7 0M105.48 285.15a1.85 1.85 0 1 0 3.7 0a1.85 1.85 0 1 0 -3.7 0M107.54 276.63a1.85 1.85 0 1 0 3.7 0a1.85 1.85 0 1 0 -3.7 0M109.6 273.94a1.85 1.85 0 1 0 3.7 0a1.85 1.85 0 1 0 -3.7 0M111.66 284.7a1.85 1.85 0 1 0 3.7 0a1.85 1.85 0 1 0 -3.7 0M113.72 300.4a1.85 1.85 0 1 0 3.7 0a1.85 1.85 0 1 0 -3.7 0M115.78 274.61a1.85 1.85 0 1 0 3.7 0a1.85 1.85 0 1 0 -3.7 0M117.84 288.74a1.85 1.85 0 1 0 3.7 0a1.85 1.85 0 1 0 -3.7 0M119.9 296.59a1.85 1.85 0 1 0 3.7 0a1.85 1.85 0 1 0 -3.7 0M121.96 278.87a1.85 1.85 0 1 0 3.7 0a1.85 1.85 0 1 0 -3.7 0M124.02 284.7a1.85 1.85 0 1 0 3.7 0a1.85 1.85 0 1 0 -3.7 0M126.09 274.39a1.85 1.85 0 1 0 3.7 0a1.85 1.85 0 1 0 -3.7 0M128.15 282.46a1.85 1.85 0 1 0 3.7 0a1.85 1.85 0 1 0 -3.7 0M130.21 323.72a1.85 1.85 0 1 0 3.7 0a1.85 1.85 0 1 0 -3.7 0M132.27 273.49a1.85 1.85 0 1 0 3.7 0a1.85 1.85 0 1 0 -3.7 0M134.33 267.66a1.85 1.85 0 1 0 3.7 0a1.85 1.85 0 1 0 -3.7 0M136.39 284.7a1.85 1.85 0 1 0 3.7 0a1.85 1.85 0 1 0 -3.7 0M138.45 293.68a1.85 1.85 0 1 0 3.7 0a1.85 1.85 0 1 0 -3.7 0M140.51 284.7a1.85 1.85 0 1 0 3.7 0a1.85 1.85 0 1 0 -3.7 0M142.57 312.06a1.85 1.85 0 1 0 3.7 0a1.85 1.85 0 1 0 -3.7 0M144.63 286.95a1.85 1.85 0 1 0 3.7 0a1.85 1.85 0 1 0 -3.7 0M146.7 277.98a1.85 1.85 0 1 0 3.7 0a1.85 1.85 0 1 0 -3.7 0M148.76 284.7a1.85 1.85 0 1 0 3.7 0a1.85 1.85 0 1 0 -3.7 0M150.82 291.43a1.85 1.85 0 1 0 3.7 0a1.85 1.85 0 1 0 -3.7 0M152.88 305.34a1.85 1.85 0 1 0 3.7 0a1.85 1.85 0 1 0 -3.7 0M154.94 295.92a1.85 1.85 0 1 0 3.7 0a1.85 1.85 0 1 0 -3.7 0M157 291.43a1.85 1.85 0 1 0 3.7 0a1.85 1.85 0 1 0 -3.7 0M159.06 282.46a1.85 1.85 0 1 0 3.7 0a1.85 1.85 0 1 0 -3.7 0M161.12 275.74a1.85 1.85 0 1 0 3.7 0a1.85 1.85 0 1 0 -3.7 0M163.18 284.7a1.85 1.85 0 1 0 3.7 0a1.85 1.85 0 1 0 -3.7 0M165.24 291.88a1.85 1.85 0 1 0 3.7 0a1.85 1.85 0 1 0 -3.7 0M167.31 295.02a1.85 1.85 0 1 0 3.7 0a1.85 1.85 0 1 0 -3.7 0M169.37 286.95a1.85 1.85 0 1 0 3.7 0a1.85 1.85 0 1 0 -3.7 0M171.43 294.12a1.85 1.85 0 1 0 3.7 0a1.85 1.85 0 1 0 -3.7 0M173.49 282.91a1.85 1.85 0 1 0 3.7 0a1.85 1.85 0 1 0 -3.7 0M175.55 276.63a1.85 1.85 0 1 0 3.7 0a1.85 1.85 0 1 0 -3.7 0M177.61 272.6a1.85 1.85 0 1 0 3.7 0a1.85 1.85 0 1 0 -3.7 0M179.67 270.8a1.85 1.85 0 1 0 3.7 0a1.85 1.85 0 1 0 -3.7 0M181.73 270.35a1.85 1.85 0 1 0 3.7 0a1.85 1.85 0 1 0 -3.7 0M183.79 405.8a1.85 1.85 0 1 0 3.7 0a1.85 1.85 0 1 0 -3.7 0M185.85 405.8a1.85 1.85 0 1 0 3.7 0a1.85 1.85 0 1 0 -3.7 0M187.92 405.8a1.85 1.85 0 1 0 3.7 0a1.85 1.85 0 1 0 -3.7 0M189.98 330.9a1.85 1.85 0 1 0 3.7 0a1.85 1.85 0 1 0 -3.7 0M192.04 305.34a1.85 1.85 0 1 0 3.7 0a1.85 1.85 0 1 0 -3.7 0M194.1 297.26a1.85 1.85 0 1 0 3.7 0a1.85 1.85 0 1 0 -3.7 0M196.16 290.76a1.85 1.85 0 1 0 3.7 0a1.85 1.85 0 1 0 -3.7 0M198.22 304.89a1.85 1.85 0 1 0 3.7 0a1.85 1.85 0 1 0 -3.7 0M200.28 287.84a1.85 1.85 0 1 0 3.7 0a1.85 1.85 0 1 0 -3.7 0M202.34 278.87a1.85 1.85 0 1 0 3.7 0a1.85 1.85 0 1 0 -3.7 0M204.4 278.2a1.85 1.85 0 1 0 3.7 0a1.85 1.85 0 1 0 -3.7 0M206.46 286.5a1.85 1.85 0 1 0 3.7 0a1.85 1.85 0 1 0 -3.7 0M208.53 298.16a1.85 1.85 0 1 0 3.7 0a1.85 1.85 0 1 0 -3.7 0M210.59 301.3a1.85 1.85 0 1 0 3.7 0a1.85 1.85 0 1 0 -3.7 0M212.65 291.88a1.85 1.85 0 1 0 3.7 0a1.85 1.85 0 1 0 -3.7 0M214.71 282.91a1.85 1.85 0 1 0 3.7 0a1.85 1.85 0 1 0 -3.7 0M216.77 270.35a1.85 1.85 0 1 0 3.7 0a1.85 1.85 0 1 0 -3.7 0M218.83 270.8a1.85 1.85 0 1 0 3.7 0a1.85 1.85 0 1 0 -3.7 0M220.89 290.09a1.85 1.85 0 1 0 3.7 0a1.85 1.85 0 1 0 -3.7 0M222.95 311.39a1.85 1.85 0 1 0 3.7 0a1.85 1.85 0 1 0 -3.7 0M225.01 290.54a1.85 1.85 0 1 0 3.7 0a1.85 1.85 0 1 0 -3.7 0M227.07 289.19a1.85 1.85 0 1 0 3.7 0a1.85 1.85 0 1 0 -3.7 0M229.14 286.95a1.85 1.85 0 1 0 3.7 0a1.85 1.85 0 1 0 -3.7 0M231.2 291.43a1.85 1.85 0 1 0 3.7 0a1.85 1.85 0 1 0 -3.7 0M233.26 286.05a1.85 1.85 0 1 0 3.7 0a1.85 1.85 0 1 0 -3.7 0M235.32 278.87a1.85 1.85 0 1 0 3.7 0a1.85 1.85 0 1 0 -3.7 0M237.38 278.2a1.85 1.85 0 1 0 3.7 0a1.85 1.85 0 1 0 -3.7 0M239.44 291.88a1.85 1.85 0 1 0 3.7 0a1.85 1.85 0 1 0 -3.7 0M241.5 312.96a1.85 1.85 0 1 0 3.7 0a1.85 1.85 0 1 0 -3.7 0M243.56 288.74a1.85 1.85 0 1 0 3.7 0a1.85 1.85 0 1 0 -3.7 0M245.62 278.87a1.85 1.85 0 1 0 3.7 0a1.85 1.85 0 1 0 -3.7 0M247.68 273.49a1.85 1.85 0 1 0 3.7 0a1.85 1.85 0 1 0 -3.7 0M249.75 288.74a1.85 1.85 0 1 0 3.7 0a1.85 1.85 0 1 0 -3.7 0M251.81 290.09a1.85 1.85 0 1 0 3.7 0a1.85 1.85 0 1 0 -3.7 0M253.87 298.16a1.85 1.85 0 1 0 3.7 0a1.85 1.85 0 1 0 -3.7 0M255.93 278.87a1.85 1.85 0 1 0 3.7 0a1.85 1.85 0 1 0 -3.7 0M257.99 271.7a1.85 1.85 0 1 0 3.7 0a1.85 1.85 0 1 0 -3.7 0M260.05 280.22a1.85 1.85 0 1 0 3.7 0a1.85 1.85 0 1 0 -3.7 0M262.11 291.88a1.85 1.85 0 1 0 3.7 0a1.85 1.85 0 1 0 -3.7 0M264.17 307.8a1.85 1.85 0 1 0 3.7 0a1.85 1.85 0 1 0 -3.7 0M266.23 267.66a1.85 1.85 0 1 0 3.7 0a1.85 1.85 0 1 0 -3.7 0M268.29 283.81a1.85 1.85 0 1 0 3.7 0a1.85 1.85 0 1 0 -3.7 0M270.36 312.51a1.85 1.85 0 1 0 3.7 0a1.85 1.85 0 1 0 -3.7 0M272.42 302.2a1.85 1.85 0 1 0 3.7 0a1.85 1.85 0 1 0 -3.7 0M274.48 323.72a1.85 1.85 0 1 0 3.7 0a1.85 1.85 0 1 0 -3.7 0M276.54 273.94a1.85 1.85 0 1 0 3.7 0a1.85 1.85 0 1 0 -3.7 0M278.6 273.49a1.85 1.85 0 1 0 3.7 0a1.85 1.85 0 1 0 -3.7 0M280.66 281.12a1.85 1.85 0 1 0 3.7 0a1.85 1.85 0 1 0 -3.7 0M282.72 270.35a1.85 1.85 0 1 0 3.7 0a1.85 1.85 0 1 0 -3.7 0M284.78 287.84a1.85 1.85 0 1 0 3.7 0a1.85 1.85 0 1 0 -3.7 0M286.84 305.34a1.85 1.85 0 1 0 3.7 0a1.85 1.85 0 1 0 -3.7 0M288.9 287.84a1.85 1.85 0 1 0 3.7 0a1.85 1.85 0 1 0 -3.7 0M290.97 284.7a1.85 1.85 0 1 0 3.7 0a1.85 1.85 0 1 0 -3.7 0M293.03 290.98a1.85 1.85 0 1 0 3.7 0a1.85 1.85 0 1 0 -3.7 0M295.09 295.02a1.85 1.85 0 1 0 3.7 0a1.85 1.85 0 1 0 -3.7 0M297.15 273.49a1.85 1.85 0 1 0 3.7 0a1.85 1.85 0 1 0 -3.7 0M299.21 278.87a1.85 1.85 0 1 0 3.7 0a1.85 1.85 0 1 0 -3.7 0M301.27 281.79a1.85 1.85 0 1 0 3.7 0a1.85 1.85 0 1 0 -3.7 0M303.33 286.5a1.85 1.85 0 1 0 3.7 0a1.85 1.85 0 1 0 -3.7 0M305.39 301.75a1.85 1.85 0 1 0 3.7 0a1.85 1.85 0 1 0 -3.7 0M307.45 281.79a1.85 1.85 0 1 0 3.7 0a1.85 1.85 0 1 0 -3.7 0M309.51 286.95a1.85 1.85 0 1 0 3.7 0a1.85 1.85 0 1 0 -3.7 0M311.58 284.7a1.85 1.85 0 1 0 3.7 0a1.85 1.85 0 1 0 -3.7 0M313.64 290.98a1.85 1.85 0 1 0 3.7 0a1.85 1.85 0 1 0 -3.7 0M315.7 287.84a1.85 1.85 0 1 0 3.7 0a1.85 1.85 0 1 0 -3.7 0M317.76 282.46a1.85 1.85 0 1 0 3.7 0a1.85 1.85 0 1 0 -3.7 0M319.82 270.35a1.85 1.85 0 1 0 3.7 0a1.85 1.85 0 1 0 -3.7 0M321.88 303.54a1.85 1.85 0 1 0 3.7 0a1.85 1.85 0 1 0 -3.7 0M323.94 286.05a1.85 1.85 0 1 0 3.7 0a1.85 1.85 0 1 0 -3.7 0M326 288.74a1.85 1.85 0 1 0 3.7 0a1.85 1.85 0 1 0 -3.7 0M328.06 283.81a1.85 1.85 0 1 0 3.7 0a1.85 1.85 0 1 0 -3.7 0M330.12 295.47a1.85 1.85 0 1 0 3.7 0a1.85 1.85 0 1 0 -3.7 0M332.19 291.88a1.85 1.85 0 1 0 3.7 0a1.85 1.85 0 1 0 -3.7 0M334.25 286.05a1.85 1.85 0 1 0 3.7 0a1.85 1.85 0 1 0 -3.7 0M336.31 284.7a1.85 1.85 0 1 0 3.7 0a1.85 1.85 0 1 0 -3.7 0M338.37 275.29a1.85 1.85 0 1 0 3.7 0a1.85 1.85 0 1 0 -3.7 0M340.43 301.3a1.85 1.85 0 1 0 3.7 0a1.85 1.85 0 1 0 -3.7 0M342.49 283.81a1.85 1.85 0 1 0 3.7 0a1.85 1.85 0 1 0 -3.7 0M344.55 275.29a1.85 1.85 0 1 0 3.7 0a1.85 1.85 0 1 0 -3.7 0M346.61 287.84a1.85 1.85 0 1 0 3.7 0a1.85 1.85 0 1 0 -3.7 0M348.67 304.89a1.85 1.85 0 1 0 3.7 0a1.85 1.85 0 1 0 -3.7 0M350.73 279.77a1.85 1.85 0 1 0 3.7 0a1.85 1.85 0 1 0 -3.7 0M352.8 280.67a1.85 1.85 0 1 0 3.7 0a1.85 1.85 0 1 0 -3.7 0M354.86 286.05a1.85 1.85 0 1 0 3.7 0a1.85 1.85 0 1 0 -3.7 0M356.92 314.31a1.85 1.85 0 1 0 3.7 0a1.85 1.85 0 1 0 -3.7 0M358.98 269.9a1.85 1.85 0 1 0 3.7 0a1.85 1.85 0 1 0 -3.7 0M361.04 284.26a1.85 1.85 0 1 0 3.7 0a1.85 1.85 0 1 0 -3.7 0M363.1 299.51a1.85 1.85 0 1 0 3.7 0a1.85 1.85 0 1 0 -3.7 0M365.16 289.19a1.85 1.85 0 1 0 3.7 0a1.85 1.85 0 1 0 -3.7 0M367.22 284.7a1.85 1.85 0 1 0 3.7 0a1.85 1.85 0 1 0 -3.7 0M369.28 282.46a1.85 1.85 0 1 0 3.7 0a1.85 1.85 0 1 0 -3.7 0M371.34 276.63a1.85 1.85 0 1 0 3.7 0a1.85 1.85 0 1 0 -3.7 0M373.41 287.84a1.85 1.85 0 1 0 3.7 0a1.85 1.85 0 1 0 -3.7 0M375.47 307.8a1.85 1.85 0 1 0 3.7 0a1.85 1.85 0 1 0 -3.7 0M377.53 278.87a1.85 1.85 0 1 0 3.7 0a1.85 1.85 0 1 0 -3.7 0M379.59 273.49a1.85 1.85 0 1 0 3.7 0a1.85 1.85 0 1 0 -3.7 0M381.65 275.74a1.85 1.85 0 1 0 3.7 0a1.85 1.85 0 1 0 -3.7 0M383.71 288.74a1.85 1.85 0 1 0 3.7 0a1.85 1.85 0 1 0 -3.7 0M385.77 304.44a1.85 1.85 0 1 0 3.7 0a1.85 1.85 0 1 0 -3.7 0M387.83 288.74a1.85 1.85 0 1 0 3.7 0a1.85 1.85 0 1 0 -3.7 0M389.89 286.05a1.85 1.85 0 1 0 3.7 0a1.85 1.85 0 1 0 -3.7 0M391.95 291.88a1.85 1.85 0 1 0 3.7 0a1.85 1.85 0 1 0 -3.7 0M394.02 298.16a1.85 1.85 0 1 0 3.7 0a1.85 1.85 0 1 0 -3.7 0M396.08 303.09a1.85 1.85 0 1 0 3.7 0a1.85 1.85 0 1 0 -3.7 0M398.14 288.74a1.85 1.85 0 1 0 3.7 0a1.85 1.85 0 1 0 -3.7 0M400.2 280.22a1.85 1.85 0 1 0 3.7 0a1.85 1.85 0 1 0 -3.7 0M402.26 271.25a1.85 1.85 0 1 0 3.7 0a1.85 1.85 0 1 0 -3.7 0M404.32 274.61a1.85 1.85 0 1 0 3.7 0a1.85 1.85 0 1 0 -3.7 0M406.38 303.09a1.85 1.85 0 1 0 3.7 0a1.85 1.85 0 1 0 -3.7 0M408.44 306.23a1.85 1.85 0 1 0 3.7 0a1.85 1.85 0 1 0 -3.7 0M410.5 297.26a1.85 1.85 0 1 0 3.7 0a1.85 1.85 0 1 0 -3.7 0M412.56 297.26a1.85 1.85 0 1 0 3.7 0a1.85 1.85 0 1 0 -3.7 0M414.63 288.74a1.85 1.85 0 1 0 3.7 0a1.85 1.85 0 1 0 -3.7 0M416.69 284.7a1.85 1.85 0 1 0 3.7 0a1.85 1.85 0 1 0 -3.7 0M418.75 268.11a1.85 1.85 0 1 0 3.7 0a1.85 1.85 0 1 0 -3.7 0M420.81 318.57a1.85 1.85 0 1 0 3.7 0a1.85 1.85 0 1 0 -3.7 0M422.87 308.48a1.85 1.85 0 1 0 3.7 0a1.85 1.85 0 1 0 -3.7 0M424.93 304.89a1.85 1.85 0 1 0 3.7 0a1.85 1.85 0 1 0 -3.7 0M426.99 273.49a1.85 1.85 0 1 0 3.7 0a1.85 1.85 0 1 0 -3.7 0M429.05 277.08a1.85 1.85 0 1 0 3.7 0a1.85 1.85 0 1 0 -3.7 0M431.11 276.18a1.85 1.85 0 1 0 3.7 0a1.85 1.85 0 1 0 -3.7 0M433.17 287.4a1.85 1.85 0 1 0 3.7 0a1.85 1.85 0 1 0 -3.7 0M435.24 288.29a1.85 1.85 0 1 0 3.7 0a1.85 1.85 0 1 0 -3.7 0M437.3 279.77a1.85 1.85 0 1 0 3.7 0a1.85 1.85 0 1 0 -3.7 0M439.36 276.63a1.85 1.85 0 1 0 3.7 0a1.85 1.85 0 1 0 -3.7 0M441.42 262.28a1.85 1.85 0 1 0 3.7 0a1.85 1.85 0 1 0 -3.7 0M443.48 316.55a1.85 1.85 0 1 0 3.7 0a1.85 1.85 0 1 0 -3.7 0M445.54 309.82a1.85 1.85 0 1 0 3.7 0a1.85 1.85 0 1 0 -3.7 0M447.6 320.59a1.85 1.85 0 1 0 3.7 0a1.85 1.85 0 1 0 -3.7 0M449.66 300.18a1.85 1.85 0 1 0 3.7 0a1.85 1.85 0 1 0 -3.7 0M451.72 291.43a1.85 1.85 0 1 0 3.7 0a1.85 1.85 0 1 0 -3.7 0M453.78 294.12a1.85 1.85 0 1 0 3.7 0a1.85 1.85 0 1 0 -3.7 0M455.85 277.53a1.85 1.85 0 1 0 3.7 0a1.85 1.85 0 1 0 -3.7 0M457.91 293a1.85 1.85 0 1 0 3.7 0a1.85 1.85 0 1 0 -3.7 0M459.97 282.46a1.85 1.85 0 1 0 3.7 0a1.85 1.85 0 1 0 -3.7 0M462.03 276.18a1.85 1.85 0 1 0 3.7 0a1.85 1.85 0 1 0 -3.7 0M464.09 283.36a1.85 1.85 0 1 0 3.7 0a1.85 1.85 0 1 0 -3.7 0M466.15 281.79a1.85 1.85 0 1 0 3.7 0a1.85 1.85 0 1 0 -3.7 0M468.21 273.94a1.85 1.85 0 1 0 3.7 0a1.85 1.85 0 1 0 -3.7 0M470.27 301.75a1.85 1.85 0 1 0 3.7 0a1.85 1.85 0 1 0 -3.7 0M472.33 305.34a1.85 1.85 0 1 0 3.7 0a1.85 1.85 0 1 0 -3.7 0M474.39 300.18a1.85 1.85 0 1 0 3.7 0a1.85 1.85 0 1 0 -3.7 0M476.46 297.26a1.85 1.85 0 1 0 3.7 0a1.85 1.85 0 1 0 -3.7 0M478.52 295.02a1.85 1.85 0 1 0 3.7 0a1.85 1.85 0 1 0 -3.7 0M480.58 293.68a1.85 1.85 0 1 0 3.7 0a1.85 1.85 0 1 0 -3.7 0M482.64 292.33a1.85 1.85 0 1 0 3.7 0a1.85 1.85 0 1 0 -3.7 0M484.7 292.33a1.85 1.85 0 1 0 3.7 0a1.85 1.85 0 1 0 -3.7 0M486.76 405.8a1.85 1.85 0 1 0 3.7 0a1.85 1.85 0 1 0 -3.7 0M488.82 405.8a1.85 1.85 0 1 0 3.7 0a1.85 1.85 0 1 0 -3.7 0M490.88 405.8a1.85 1.85 0 1 0 3.7 0a1.85 1.85 0 1 0 -3.7 0M492.94 405.8a1.85 1.85 0 1 0 3.7 0a1.85 1.85 0 1 0 -3.7 0M495 405.8a1.85 1.85 0 1 0 3.7 0a1.85 1.85 0 1 0 -3.7 0M497.07 291.88a1.85 1.85 0 1 0 3.7 0a1.85 1.85 0 1 0 -3.7 0M499.13 290.54a1.85 1.85 0 1 0 3.7 0a1.85 1.85 0 1 0 -3.7 0M501.19 288.74a1.85 1.85 0 1 0 3.7 0a1.85 1.85 0 1 0 -3.7 0M503.25 288.74a1.85 1.85 0 1 0 3.7 0a1.85 1.85 0 1 0 -3.7 0M505.31 313.86a1.85 1.85 0 1 0 3.7 0a1.85 1.85 0 1 0 -3.7 0M507.37 301.3a1.85 1.85 0 1 0 3.7 0a1.85 1.85 0 1 0 -3.7 0M509.43 294.12a1.85 1.85 0 1 0 3.7 0a1.85 1.85 0 1 0 -3.7 0M511.49 285.15a1.85 1.85 0 1 0 3.7 0a1.85 1.85 0 1 0 -3.7 0M513.55 290.09a1.85 1.85 0 1 0 3.7 0a1.85 1.85 0 1 0 -3.7 0M515.61 277.08a1.85 1.85 0 1 0 3.7 0a1.85 1.85 0 1 0 -3.7 0M517.68 287.84a1.85 1.85 0 1 0 3.7 0a1.85 1.85 0 1 0 -3.7 0M519.74 291.43a1.85 1.85 0 1 0 3.7 0a1.85 1.85 0 1 0 -3.7 0M521.8 293.68a1.85 1.85 0 1 0 3.7 0a1.85 1.85 0 1 0 -3.7 0M523.86 283.36a1.85 1.85 0 1 0 3.7 0a1.85 1.85 0 1 0 -3.7 0M525.92 284.26a1.85 1.85 0 1 0 3.7 0a1.85 1.85 0 1 0 -3.7 0M527.98 263.4a1.85 1.85 0 1 0 3.7 0a1.85 1.85 0 1 0 -3.7 0M530.04 301.3a1.85 1.85 0 1 0 3.7 0a1.85 1.85 0 1 0 -3.7 0M532.1 306.23a1.85 1.85 0 1 0 3.7 0a1.85 1.85 0 1 0 -3.7 0M534.16 299.06a1.85 1.85 0 1 0 3.7 0a1.85 1.85 0 1 0 -3.7 0M536.22 288.74a1.85 1.85 0 1 0 3.7 0a1.85 1.85 0 1 0 -3.7 0M538.29 268.56a1.85 1.85 0 1 0 3.7 0a1.85 1.85 0 1 0 -3.7 0M540.35 265.42a1.85 1.85 0 1 0 3.7 0a1.85 1.85 0 1 0 -3.7 0M542.41 269.9a1.85 1.85 0 1 0 3.7 0a1.85 1.85 0 1 0 -3.7 0M544.47 290.98a1.85 1.85 0 1 0 3.7 0a1.85 1.85 0 1 0 -3.7 0M546.53 297.26a1.85 1.85 0 1 0 3.7 0a1.85 1.85 0 1 0 -3.7 0M548.59 295.02a1.85 1.85 0 1 0 3.7 0a1.85 1.85 0 1 0 -3.7 0M550.65 291.43a1.85 1.85 0 1 0 3.7 0a1.85 1.85 0 1 0 -3.7 0M552.71 303.77a1.85 1.85 0 1 0 3.7 0a1.85 1.85 0 1 0 -3.7 0M554.77 305.34a1.85 1.85 0 1 0 3.7 0a1.85 1.85 0 1 0 -3.7 0M556.83 288.74a1.85 1.85 0 1 0 3.7 0a1.85 1.85 0 1 0 -3.7 0M558.9 269.46a1.85 1.85 0 1 0 3.7 0a1.85 1.85 0 1 0 -3.7 0M560.96 278.87a1.85 1.85 0 1 0 3.7 0a1.85 1.85 0 1 0 -3.7 0M563.02 280.67a1.85 1.85 0 1 0 3.7 0a1.85 1.85 0 1 0 -3.7 0M565.08 299.06a1.85 1.85 0 1 0 3.7 0a1.85 1.85 0 1 0 -3.7 0M567.14 307.13a1.85 1.85 0 1 0 3.7 0a1.85 1.85 0 1 0 -3.7 0M569.2 300.4a1.85 1.85 0 1 0 3.7 0a1.85 1.85 0 1 0 -3.7 0M571.26 288.74a1.85 1.85 0 1 0 3.7 0a1.85 1.85 0 1 0 -3.7 0M573.32 277.08a1.85 1.85 0 1 0 3.7 0a1.85 1.85 0 1 0 -3.7 0M575.38 286.95a1.85 1.85 0 1 0 3.7 0a1.85 1.85 0 1 0 -3.7 0M577.44 284.7a1.85 1.85 0 1 0 3.7 0a1.85 1.85 0 1 0 -3.7 0M579.5 286.95a1.85 1.85 0 1 0 3.7 0a1.85 1.85 0 1 0 -3.7 0M581.57 282.46a1.85 1.85 0 1 0 3.7 0a1.85 1.85 0 1 0 -3.7 0M583.63 284.7a1.85 1.85 0 1 0 3.7 0a1.85 1.85 0 1 0 -3.7 0M585.69 286.95a1.85 1.85 0 1 0 3.7 0a1.85 1.85 0 1 0 -3.7 0M587.75 283.81a1.85 1.85 0 1 0 3.7 0a1.85 1.85 0 1 0 -3.7 0M589.81 273.04a1.85 1.85 0 1 0 3.7 0a1.85 1.85 0 1 0 -3.7 0M591.87 283.81a1.85 1.85 0 1 0 3.7 0a1.85 1.85 0 1 0 -3.7 0M593.93 299.51a1.85 1.85 0 1 0 3.7 0a1.85 1.85 0 1 0 -3.7 0M595.99 286.05a1.85 1.85 0 1 0 3.7 0a1.85 1.85 0 1 0 -3.7 0M598.05 276.63a1.85 1.85 0 1 0 3.7 0a1.85 1.85 0 1 0 -3.7 0M600.12 274.61a1.85 1.85 0 1 0 3.7 0a1.85 1.85 0 1 0 -3.7 0M602.18 298.16a1.85 1.85 0 1 0 3.7 0a1.85 1.85 0 1 0 -3.7 0M604.24 311.39a1.85 1.85 0 1 0 3.7 0a1.85 1.85 0 1 0 -3.7 0M606.3 288.74a1.85 1.85 0 1 0 3.7 0a1.85 1.85 0 1 0 -3.7 0M608.36 267.66a1.85 1.85 0 1 0 3.7 0a1.85 1.85 0 1 0 -3.7 0M610.42 307.13a1.85 1.85 0 1 0 3.7 0a1.85 1.85 0 1 0 -3.7 0M612.48 283.81a1.85 1.85 0 1 0 3.7 0a1.85 1.85 0 1 0 -3.7 0M614.54 267.21a1.85 1.85 0 1 0 3.7 0a1.85 1.85 0 1 0 -3.7 0M616.6 284.7a1.85 1.85 0 1 0 3.7 0a1.85 1.85 0 1 0 -3.7 0M618.66 293.68a1.85 1.85 0 1 0 3.7 0a1.85 1.85 0 1 0 -3.7 0M620.73 307.58a1.85 1.85 0 1 0 3.7 0a1.85 1.85 0 1 0 -3.7 0M622.79 298.61a1.85 1.85 0 1 0 3.7 0a1.85 1.85 0 1 0 -3.7 0M624.85 284.7a1.85 1.85 0 1 0 3.7 0a1.85 1.85 0 1 0 -3.7 0M626.91 280.67a1.85 1.85 0 1 0 3.7 0a1.85 1.85 0 1 0 -3.7 0M628.97 290.09a1.85 1.85 0 1 0 3.7 0a1.85 1.85 0 1 0 -3.7 0M631.03 299.06a1.85 1.85 0 1 0 3.7 0a1.85 1.85 0 1 0 -3.7 0M633.09 283.81a1.85 1.85 0 1 0 3.7 0a1.85 1.85 0 1 0 -3.7 0M635.15 278.87a1.85 1.85 0 1 0 3.7 0a1.85 1.85 0 1 0 -3.7 0M637.21 283.81a1.85 1.85 0 1 0 3.7 0a1.85 1.85 0 1 0 -3.7 0M639.27 272.15a1.85 1.85 0 1 0 3.7 0a1.85 1.85 0 1 0 -3.7 0M641.34 291.88a1.85 1.85 0 1 0 3.7 0a1.85 1.85 0 1 0 -3.7 0M643.4 296.37a1.85 1.85 0 1 0 3.7 0a1.85 1.85 0 1 0 -3.7 0M645.46 283.81a1.85 1.85 0 1 0 3.7 0a1.85 1.85 0 1 0 -3.7 0M647.52 265.87a1.85 1.85 0 1 0 3.7 0a1.85 1.85 0 1 0 -3.7 0M649.58 303.09a1.85 1.85 0 1 0 3.7 0a1.85 1.85 0 1 0 -3.7 0M651.64 299.51a1.85 1.85 0 1 0 3.7 0a1.85 1.85 0 1 0 -3.7 0M653.7 294.57a1.85 1.85 0 1 0 3.7 0a1.85 1.85 0 1 0 -3.7 0M655.76 288.74a1.85 1.85 0 1 0 3.7 0a1.85 1.85 0 1 0 -3.7 0M657.82 283.81a1.85 1.85 0 1 0 3.7 0a1.85 1.85 0 1 0 -3.7 0M659.88 278.87a1.85 1.85 0 1 0 3.7 0a1.85 1.85 0 1 0 -3.7 0M661.95 268.56a1.85 1.85 0 1 0 3.7 0a1.85 1.85 0 1 0 -3.7 0M664.01 273.94a1.85 1.85 0 1 0 3.7 0a1.85 1.85 0 1 0 -3.7 0M666.07 274.61a1.85 1.85 0 1 0 3.7 0a1.85 1.85 0 1 0 -3.7 0M668.13 288.74a1.85 1.85 0 1 0 3.7 0a1.85 1.85 0 1 0 -3.7 0M670.19 303.09a1.85 1.85 0 1 0 3.7 0a1.85 1.85 0 1 0 -3.7 0" fill="#2ca02c"/>
</g>
<g clip-path="url(#c1)">
<path d="M55.8 280.22 L57.86 277.08 L59.92 273.94 L61.98 287.84 L64.04 280.22 L66.11 272.6 L68.17 290.09 L70.23 279.77 L72.29 290.98 L74.35 273.94 L76.41 286.05 L78.47 278.2 L80.53 278.2 L82.59 278.87 L84.65 279.77 L86.72 277.08 L88.78 283.36 L90.84 280.22 L92.9 290.98 L94.96 273.94 L97.02 283.81 L99.08 278.2 L101.14 280.22 L103.2 277.53 L105.26 278.2 L107.33 277.53 L109.39 283.81 L111.45 279.32 L113.51 280.22 L115.57 273.94 L117.63 296.59 L119.69 280.22 L121.75 279.77 L123.81 277.53 L125.87 278.87 L127.94 280.22 L130 275.74 L132.06 284.7 L134.12 273.94 L136.18 286.95 L138.24 296.81 L140.3 279.32 L142.36 277.53 L144.42 282.91 L146.48 273.49 L148.55 287.84 L150.61 276.63 L152.67 273.04 L154.73 290.54 L156.79 278.87 L158.85 296.59 L160.91 271.25 L162.97 275.74 L165.03 405.8 L167.09 405.8 L169.16 405.8 L171.22 405.8 L173.28 405.8 L175.34 405.8 L177.4 405.8 L179.46 405.8 L181.52 405.8 L183.58 405.8 L185.64 405.8 L187.7 405.8 L189.77 405.8 L191.83 405.8 L193.89 405.8 L195.95 405.8 L198.01 405.8 L200.07 405.8 L202.13 405.8 L204.19 405.8 L206.25 405.8 L208.31 405.8 L210.38 405.8 L212.44 405.8 L214.5 405.8 L216.56 405.8 L218.62 301.75 L220.68 287.84 L222.74 274.61 L224.8 282.91 L226.86 275.29 L228.92 282.46 L230.99 277.53 L233.05 282.91 L235.11 272.15 L237.17 292.33 L239.23 281.12 L241.29 293.68 L243.35 271.25 L245.41 276.63 L247.47 301.75 L249.53 281.79 L251.6 273.49 L253.66 287.84 L255.72 275.29 L257.78 282.91 L259.84 273.94 L261.9 288.29 L263.96 290.54 L266.02 271.7 L268.08 275.74 L270.14 405.8 L272.21 405.8 L274.27 405.8 L276.33 405.8 L278.39 405.8 L280.45 405.8 L282.51 405.8 L284.57 405.8 L286.63 295.92 L288.69 285.15 L290.75 273.94 L292.82 296.59 L294.88 271.25 L296.94 275.74 L299 299.51 L301.06 280.22 L303.12 273.94 L305.18 283.36 L307.24 278.2 L309.3 277.08 L311.36 277.53 L313.43 284.7 L315.49 280.22 L317.55 282.91 L319.61 273.94 L321.67 297.26 L323.73 279.32 L325.79 280.22 L327.85 276.63 L329.91 288.29 L331.97 273.04 L334.04 288.29 L336.1 282.46 L338.16 273.49 L340.22 296.59 L342.28 280.22 L344.34 279.77 L346.4 275.74 L348.46 288.74 L350.52 273.04 L352.58 288.29 L354.65 281.12 L356.71 273.04 L358.77 297.26 L360.83 279.32 L362.89 279.77 L364.95 278.2 L367.01 277.53 L369.07 277.08 L371.13 283.36 L373.19 278.87 L375.26 282.46 L377.32 273.94 L379.38 297.26 L381.44 279.77 L383.5 279.77 L385.56 278.87 L387.62 273.94 L389.68 287.84 L391.74 283.81 L393.8 272.6 L395.87 291.88 L397.93 283.81 L399.99 296.59 L402.05 271.25 L404.11 275.29 L406.17 405.8 L408.23 405.8 L410.29 405.8 L412.35 405.8 L414.41 405.8 L416.48 405.8 L418.54 405.8 L420.6 405.8 L422.66 405.8 L424.72 405.8 L426.78 405.8 L428.84 405.8 L430.9 405.8 L432.96 405.8 L435.02 405.8 L437.09 405.8 L439.15 405.8 L441.21 405.8 L443.27 405.8 L445.33 405.8 L447.39 405.8 L449.45 405.8 L451.51 405.8 L453.57 405.8 L455.63 405.8 L457.7 405.8 L459.76 405.8 L461.82 405.8 L463.88 405.8 L465.94 405.8 L468 405.8 L470.06 405.8 L472.12 405.8 L474.18 405.8 L476.24 405.8 L478.31 405.8 L480.37 405.8 L482.43 405.8 L484.49 405.8 L486.55 405.8 L488.61 405.8 L490.67 405.8 L492.73 405.8 L494.79 405.8 L496.85 405.8 L498.92 405.8 L500.98 405.8 L503.04 405.8 L505.1 405.8 L507.16 405.8 L509.22 405.8 L511.28 405.8 L513.34 405.8 L515.4 405.8 L517.46 405.8 L519.53 405.8 L521.59 405.8 L523.65 405.8 L525.71 405.8 L527.77 405.8 L529.83 405.8 L531.89 405.8 L533.95 405.8 L536.01 405.8 L538.07 405.8 L540.14 405.8 L542.2 405.8 L544.26 405.8 L546.32 405.8 L548.38 301.75 L550.44 287.84 L552.5 274.61 L554.56 273.04 L556.62 287.84 L558.68 275.74 L560.75 282.91 L562.81 279.77 L564.87 288.74 L566.93 273.04 L568.99 294.12 L571.05 285.15 L573.11 273.94 L575.17 296.59 L577.23 271.25 L579.29 275.74 L581.36 302.2 L583.42 280.67 L585.48 273.94 L587.54 288.29 L589.6 275.29 L591.66 281.79 L593.72 279.77 L595.78 283.36 L597.84 272.15 L599.9 292.33 L601.97 280.22 L604.03 294.12 L606.09 271.25 L608.15 275.74 L610.21 299.51 L612.27 280.22 L614.33 273.94 L616.39 284.7 L618.45 280.22 L620.51 273.94 L622.58 288.29 L624.64 282.91 L626.7 272.6 L628.76 290.98 L630.82 279.77 L632.88 290.54 L634.94 274.61 L637 286.05 L639.06 282.91 L641.12 273.94 L643.19 283.36 L645.25 277.53 L647.31 273.94 L649.37 288.29 L651.43 282.91 L653.49 272.6 L655.55 290.54 L657.61 279.77 L659.67 291.88 L661.73 276.18 L663.8 269.46 L665.86 299.51 L667.92 280.22 L669.98 273.94 L672.04 287.84" fill="none" stroke="#ff7f0e" stroke-width="2.0" stroke-linejoin="round"/>
<path d="M53.8 280.22a2.0 2.0 0 1 0 4 0a2.0 2.0 0 1 0 -4 0M55.86 277.08a2.0 2.0 0 1 0 4 0a2.0 2.0 0 1 0 -4 0M57.92 273.94a2.0 2.0 0 1 0 4 0a2.0 2.0 0 1 0 -4 0M59.98 287.84a2.0 2.0 0 1 0 4 0a2.0 2.0 0 1 0 -4 0M62.04 280.22a2.0 2.0 0 1 0 4 0a2.0 2.0 0 1 0 -4 0M64.11 272.6a2.0 2.0 0 1 0 4 0a2.0 2.0 0 1 0 -4 0M66.17 290.09a2.0 2.0 0 1 0 4 0a2.0 2.0 0 1 0 -4 0M68.23 279.77a2.0 2.0 0 1 0 4 0a2.0 2.0 0 1 0 -4 0M70.29 290.98a2.0 2.0 0 1 0 4 0a2.0 2.0 0 1 0 -4 0M72.35 273.94a2.0 2.0 0 1 0 4 0a2.0 2.0 0 1 0 -4 0M74.41 286.05a2.0 2.0 0 1 0 4 0a2.0 2.0 0 1 0 -4 0M76.47 278.2a2.0 2.0 0 1 0 4 0a2.0 2.0 0 1 0 -4 0M78.53 278.2a2.0 2.0 0 1 0 4 0a2.0 2.0 0 1 0 -4 0M80.59 278.87a2.0 2.0 0 1 0 4 0a2.0 2.0 0 1 0 -4 0M82.65 279.77a2.0 2.0 0 1 0 4 0a2.0 2.0 0 1 0 -4 0M84.72 277.08a2.0 2.0 0 1 0 4 0a2.0 2.0 0 1 0 -4 0M86.78 283.36a2.0 2.0 0 1 0 4 0a2.0 2.0 0 1 0 -4 0M88.84 280.22a2.0 2.0 0 1 0 4 0a2.0 2.0 0 1 0 -4 0M90.9 290.98a2.0 2.0 0 1 0 4 0a2.0 2.0 0 1 0 -4 0M92.96 273.94a2.0 2.0 0 1 0 4 0a2.0 2.0 0 1 0 -4 0M95.02 283.81a2.0 2.0 0 1 0 4 0a2.0 2.0 0 1 0 -4 0M97.08 278.2a2.0 2.0 0 1 0 4 0a2.0 2.0 0 1 0 -4 0M99.14 280.22a2.0 2.0 0 1 0 4 0a2.0 2.0 0 1 0 -4 0M101.2 277.53a2.0 2.0 0 1 0 4 0a2.0 2.0 0 1 0 -4 0M103.26 278.2a2.0 2.0 0 1 0 4 0a2.0 2.0 0 1 0 -4 0M105.33 277.53a2.0 2.0 0 1 0 4 0a2.0 2.0 0 1 0 -4 0M107.39 283.81a2.0 2.0 0 1 0 4 0a2.0 2.0 0 1 0 -4 0M109.45 279.32a2.0 2.0 0 1 0 4 0a2.0 2.0 0 1 0 -4 0M111.51 280.22a2.0 2.0 0 1 0 4 0a2.0 2.0 0 1 0 -4 0M113.57 273.94a2.0 2.0 0 1 0 4 0a2.0 2.0 0 1 0 -4 0M115.63 296.59a2.0 2.0 0 1 0 4 0a2.0 2.0 0 1 0 -4 0M117.69 280.22a2.0 2.0 0 1 0 4 0a2.0 2.0 0 1 0 -4 0M119.75 279.77a2.0 2.0 0 1 0 4 0a2.0 2.0 0 1 0 -4 0M121.81 277.53a2.0 2.0 0 1 0 4 0a2.0 2.0 0 1 0 -4 0M123.87 278.87a2.0 2.0 0 1 0 4 0a2.0 2.0 0 1 0 -4 0M125.94 280.22a2.0 2.0 0 1 0 4 0a2.0 2.0 0 1 0 -4 0M128 275.74a2.0 2.0 0 1 0 4 0a2.0 2.0 0 1 0 -4 0M130.06 284.7a2.0 2.0 0 1 0 4 0a2.0 2.0 0 1 0 -4 0M132.12 273.94a2.0 2.0 0 1 0 4 0a2.0 2.0 0 1 0 -4 0M134.18 286.95a2.0 2.0 0 1 0 4 0a2.0 2.0 0 1 0 -4 0M136.24 296.81a2.0 2.0 0 1 0 4 0a2.0 2.0 0 1 0 -4 0M138.3 279.32a2.0 2.0 0 1 0 4 0a2.0 2.0 0 1 0 -4 0M140.36 277.53a2.0 2.0 0 1 0 4 0a2.0 2.0 0 1 0 -4 0M142.42 282.91a2.0 2.0 0 1 0 4 0a2.0 2.0 0 1 0 -4 0M144.48 273.49a2.0 2.0 0 1 0 4 0a2.0 2.0 0 1 0 -4 0M146.55 287.84a2.0 2.0 0 1 0 4 0a2.0 2.0 0 1 0 -4 0M148.61 276.63a2.0 2.0 0 1 0 4 0a2.0 2.0 0 1 0 -4 0M150.67 273.04a2.0 2.0 0 1 0 4 0a2.0 2.0 0 1 0 -4 0M152.73 290.54a2.0 2.0 0 1 0 4 0a2.0 2.0 0 1 0 -4 0M154.79 278.87a2.0 2.0 0 1 0 4 0a2.0 2.0 0 1 0 -4 0M156.85 296.59a2.0 2.0 0 1 0 4 0a2.0 2.0 0 1 0 -4 0M158.91 271.25a2.0 2.0 0 1 0 4 0a2.0 2.0 0 1 0 -4 0M160.97 275.74a2.0 2.0 0 1 0 4 0a2.0 2.0 0 1 0 -4 0M163.03 405.8a2.0 2.0 0 1 0 4 0a2.0 2.0 0 1 0 -4 0M165.09 405.8a2.0 2.0 0 1 0 4 0a2.0 2.0 0 1 0 -4 0M167.16 405.8a2.0 2.0 0 1 0 4 0a2.0 2.0 0 1 0 -4 0M169.22 405.8a2.0 2.0 0 1 0 4 0a2.0 2.0 0 1 0 -4 0M171.28 405.8a2.0 2.0 0 1 0 4 0a2.0 2.0 0 1 0 -4 0M173.34 405.8a2.0 2.0 0 1 0 4 0a2.0 2.0 0 1 0 -4 0M175.4 405.8a2.0 2.0 0 1 0 4 0a2.0 2.0 0 1 0 -4 0M177.46 405.8a2.0 2.0 0 1 0 4 0a2.0 2.0 0 1 0 -4 0M179.52 405.8a2.0 2.0 0 1 0 4 0a2.0 2.0 0 1 0 -4 0M181.58 405.8a2.0 2.0 0 1 0 4 0a2.0 2.0 0 1 0 -4 0M183.64 405.8a2.0 2.0 0 1 0 4 0a2.0 2.0 0 1 0 -4 0M185.7 405.8a2.0 2.0 0 1 0 4 0a2.0 2.0 0 1 0 -4 0M187.77 405.8a2.0 2.0 0 1 0 4 0a2.0 2.0 0 1 0 -4 0M189.83 405.8a2.0 2.0 0 1 0 4 0a2.0 2.0 0 1 0 -4 0M191.89 405.8a2.0 2.0 0 1 0 4 0a2.0 2.0 0 1 0 -4 0M193.95 405.8a2.0 2.0 0 1 0 4 0a2.0 2.0 0 1 0 -4 0M196.01 405.8a2.0 2.0 0 1 0 4 0a2.0 2.0 0 1 0 -4 0M198.07 405.8a2.0 2.0 0 1 0 4 0a2.0 2.0 0 1 0 -4 0M200.13 405.8a2.0 2.0 0 1 0 4 0a2.0 2.0 0 1 0 -4 0M202.19 405.8a2.0 2.0 0 1 0 4 0a2.0 2.0 0 1 0 -4 0M204.25 405.8a2.0 2.0 0 1 0 4 0a2.0 2.0 0 1 0 -4 0M206.31 405.8a2.0 2.0 0 1 0 4 0a2.0 2.0 0 1 0 -4 0M208.38 405.8a2.0 2.0 0 1 0 4 0a2.0 2.0 0 1 0 -4 0M210.44 405.8a2.0 2.0 0 1 0 4 0a2.0 2.0 0 1 0 -4 0M212.5 405.8a2.0 2.0 0 1 0 4 0a2.0 2.0 0 1 0 -4 0M214.56 405.8a2.0 2.0 0 1 0 4 0a2.0 2.0 0 1 0 -4 0M216.62 301.75a2.0 2.0 0 1 0 4 0a2.0 2.0 0 1 0 -4 0M218.68 287.84a2.0 2.0 0 1 0 4 0a2.0 2.0 0 1 0 -4 0M220.74 274.61a2.0 2.0 0 1 0 4 0a2.0 2.0 0 1 0 -4 0M222.8 282.91a2.0 2.0 0 1 0 4 0a2.0 2.0 0 1 0 -4 0M224.86 275.29a2.0 2.0 0 1 0 4 0a2.0 2.0 0 1 0 -4 0M226.92 282.46a2.0 2.0 0 1 0 4 0a2.0 2.0 0 1 0 -4 0M228.99 277.53a2.0 2.0 0 1 0 4 0a2.0 2.0 0 1 0 -4 0M231.05 282.91a2.0 2.0 0 1 0 4 0a2.0 2.0 0 1 0 -4 0M233.11 272.15a2.0 2.0 0 1 0 4 0a2.0 2.0 0 1 0 -4 0M235.17 292.33a2.0 2.0 0 1 0 4 0a2.0 2.0 0 1 0 -4 0M237.23 281.12a2.0 2.0 0 1 0 4 0a2.0 2.0 0 1 0 -4 0M239.29 293.68a2.0 2.0 0 1 0 4 0a2.0 2.0 0 1 0 -4 0M241.35 271.25a2.0 2.0 0 1 0 4 0a2.0 2.0 0 1 0 -4 0M243.41 276.63a2.0 2.0 0 1 0 4 0a2.0 2.0 0 1 0 -4 0M245.47 301.75a2.0 2.0 0 1 0 4 0a2.0 2.0 0 1 0 -4 0M247.53 281.79a2.0 2.0 0 1 0 4 0a2.0 2.0 0 1 0 -4 0M249.6 273.49a2.0 2.0 0 1 0 4 0a2.0 2.0 0 1 0 -4 0M251.66 287.84a2.0 2.0 0 1 0 4 0a2.0 2.0 0 1 0 -4 0M253.72 275.29a2.0 2.0 0 1 0 4 0a2.0 2.0 0 1 0 -4 0M255.78 282.91a2.0 2.0 0 1 0 4 0a2.0 2.0 0 1 0 -4 0M257.84 273.94a2.0 2.0 0 1 0 4 0a2.0 2.0 0 1 0 -4 0M259.9 288.29a2.0 2.0 0 1 0 4 0a2.0 2.0 0 1 0 -4 0M261.96 290.54a2.0 2.0 0 1 0 4 0a2.0 2.0 0 1 0 -4 0M264.02 271.7a2.0 2.0 0 1 0 4 0a2.0 2.0 0 1 0 -4 0M266.08 275.74a2.0 2.0 0 1 0 4 0a2.0 2.0 0 1 0 -4 0M268.14 405.8a2.0 2.0 0 1 0 4 0a2.0 2.0 0 1 0 -4 0M270.21 405.8a2.0 2.0 0 1 0 4 0a2.0 2.0 0 1 0 -4 0M272.27 405.8a2.0 2.0 0 1 0 4 0a2.0 2.0 0 1 0 -4 0M274.33 405.8a2.0 2.0 0 1 0 4 0a2.0 2.0 0 1 0 -4 0M276.39 405.8a2.0 2.0 0 1 0 4 0a2.0 2.0 0 1 0 -4 0M278.45 405.8a2.0 2.0 0 1 0 4 0a2.0 2.0 0 1 0 -4 0M280.51 405.8a2.0 2.0 0 1 0 4 0a2.0 2.0 0 1 0 -4 0M282.57 405.8a2.0 2.0 0 1 0 4 0a2.0 2.0 0 1 0 -4 0M284.63 295.92a2.0 2.0 0 1 0 4 0a2.0 2.0 0 1 0 -4 0M286.69 285.15a2.0 2.0 0 1 0 4 0a2.0 2.0 0 1 0 -4 0M288.75 273.94a2.0 2.0 0 1 0 4 0a2.0 2.0 0 1 0 -4 0M290.82 296.59a2.0 2.0 0 1 0 4 0a2.0 2.0 0 1 0 -4 0M292.88 271.25a2.0 2.0 0 1 0 4 0a2.0 2.0 0 1 0 -4 0M294.94 275.74a2.0 2.0 0 1 0 4 0a2.0 2.0 0 1 0 -4 0M297 299.51a2.0 2.0 0 1 0 4 0a2.0 2.0 0 1 0 -4 0M299.06 280.22a2.0 2.0 0 1 0 4 0a2.0 2.0 0 1 0 -4 0M301.12 273.94a2.0 2.0 0 1 0 4 0a2.0 2.0 0 1 0 -4 0M303.18 283.36a2.0 2.0 0 1 0 4 0a2.0 2.0 0 1 0 -4 0M305.24 278.2a2.0 2.0 0 1 0 4 0a2.0 2.0 0 1 0 -4 0M307.3 277.08a2.0 2.0 0 1 0 4 0a2.0 2.0 0 1 0 -4 0M309.36 277.53a2.0 2.0 0 1 0 4 0a2.0 2.0 0 1 0 -4 0M311.43 284.7a2.0 2.0 0 1 0 4 0a2.0 2.0 0 1 0 -4 0M313.49 280.22a2.0 2.0 0 1 0 4 0a2.0 2.0 0 1 0 -4 0M315.55 282.91a2.0 2.0 0 1 0 4 0a2.0 2.0 0 1 0 -4 0M317.61 273.94a2.0 2.0 0 1 0 4 0a2.0 2.0 0 1 0 -4 0M319.67 297.26a2.0 2.0 0 1 0 4 0a2.0 2.0 0 1 0 -4 0M321.73 279.32a2.0 2.0 0 1 0 4 0a2.0 2.0 0 1 0 -4 0M323.79 280.22a2.0 2.0 0 1 0 4 0a2.0 2.0 0 1 0 -4 0M325.85 276.63a2.0 2.0 0 1 0 4 0a2.0 2.0 0 1 0 -4 0M327.91 288.29a2.0 2.0 0 1 0 4 0a2.0 2.0 0 1 0 -4 0M329.97 273.04a2.0 2.0 0 1 0 4 0a2.0 2.0 0 1 0 -4 0M332.04 288.29a2.0 2.0 0 1 0 4 0a2.0 2.0 0 1 0 -4 0M334.1 282.46a2.0 2.0 0 1 0 4 0a2.0 2.0 0 1 0 -4 0M336.16 273.49a2.0 2.0 0 1 0 4 0a2.0 2.0 0 1 0 -4 0M338.22 296.59a2.0 2.0 0 1 0 4 0a2.0 2.0 0 1 0 -4 0M340.28 280.22a2.0 2.0 0 1 0 4 0a2.0 2.0 0 1 0 -4 0M342.34 279.77a2.0 2.0 0 1 0 4 0a2.0 2.0 0 1 0 -4 0M344.4 275.74a2.0 2.0 0 1 0 4 0a2.0 2.0 0 1 0 -4 0M346.46 288.74a2.0 2.0 0 1 0 4 0a2.0 2.0 0 1 0 -4 0M348.52 273.04a2.0 2.0 0 1 0 4 0a2.0 2.0 0 1 0 -4 0M350.58 288.29a2.0 2.0 0 1 0 4 0a2.0 2.0 0 1 0 -4 0M352.65 281.12a2.0 2.0 0 1 0 4 0a2.0 2.0 0 1 0 -4 0M354.71 273.04a2.0 2.0 0 1 0 4 0a2.0 2.0 0 1 0 -4 0M356.77 297.26a2.0 2.0 0 1 0 4 0a2.0 2.0 0 1 0 -4 0M358.83 279.32a2.0 2.0 0 1 0 4 0a2.0 2.0 0 1 0 -4 0M360.89 279.77a2.0 2.0 0 1 0 4 0a2.0 2.0 0 1 0 -4 0M362.95 278.2a2.0 2.0 0 1 0 4 0a2.0 2.0 0 1 0 -4 0M365.01 277.53a2.0 2.0 0 1 0 4 0a2.0 2.0 0 1 0 -4 0M367.07 277.08a2.0 2.0 0 1 0 4 0a2.0 2.0 0 1 0 -4 0M369.13 283.36a2.0 2.0 0 1 0 4 0a2.0 2.0 0 1 0 -4 0M371.19 278.87a2.0 2.0 0 1 0 4 0a2.0 2.0 0 1 0 -4 0M373.26 282.46a2.0 2.0 0 1 0 4 0a2.0 2.0 0 1 0 -4 0M375.32 273.94a2.0 2.0 0 1 0 4 0a2.0 2.0 0 1 0 -4 0M377.38 297.26a2.0 2.0 0 1 0 4 0a2.0 2.0 0 1 0 -4 0M379.44 279.77a2.0 2.0 0 1 0 4 0a2.0 2.0 0 1 0 -4 0M381.5 279.77a2.0 2.0 0 1 0 4 0a2.0 2.0 0 1 0 -4 0M383.56 278.87a2.0 2.0 0 1 0 4 0a2.0 2.0 0 1 0 -4 0M385.62 273.94a2.0 2.0 0 1 0 4 0a2.0 2.0 0 1 0 -4 0M387.68 287.84a2.0 2.0 0 1 0 4 0a2.0 2.0 0 1 0 -4 0M389.74 283.81a2.0 2.0 0 1 0 4 0a2.0 2.0 0 1 0 -4 0M391.8 272.6a2.0 2.0 0 1 0 4 0a2.0 2.0 0 1 0 -4 0M393.87 291.88a2.0 2.0 0 1 0 4 0a2.0 2.0 0 1 0 -4 0M395.93 283.81a2.0 2.0 0 1 0 4 0a2.0 2.0 0 1 0 -4 0M397.99 296.59a2.0 2.0 0 1 0 4 0a2.0 2.0 0 1 0 -4 0M400.05 271.25a2.0 2.0 0 1 0 4 0a2.0 2.0 0 1 0 -4 0M402.11 275.29a2.0 2.0 0 1 0 4 0a2.0 2.0 0 1 0 -4 0M404.17 405.8a2.0 2.0 0 1 0 4 0a2.0 2.0 0 1 0 -4 0M406.23 405.8a2.0 2.0 0 1 0 4 0a2.0 2.0 0 1 0 -4 0M408.29 405.8a2.0 2.0 0 1 0 4 0a2.0 2.0 0 1 0 -4 0M410.35 405.8a2.0 2.0 0 1 0 4 0a2.0 2.0 0 1 0 -4 0M412.41 405.8a2.0 2.0 0 1 0 4 0a2.0 2.0 0 1 0 -4 0M414.48 405.8a2.0 2.0 0 1 0 4 0a2.0 2.0 0 1 0 -4 0M416.54 405.8a2.0 2.0 0 1 0 4 0a2.0 2.0 0 1 0 -4 0M418.6 405.8a2.0 2.0 0 1 0 4 0a2.0 2.0 0 1 0 -4 0M420.66 405.8a2.0 2.0 0 1 0 4 0a2.0 2.0 0 1 0 -4 0M422.72 405.8a2.0 2.0 0 1 0 4 0a2.0 2.0 0 1 0 -4 0M424.78 405.8a2.0 2.0 0 1 0 4 0a2.0 2.0 0 1 0 -4 0M426.84 405.8a2.0 2.0 0 1 0 4 0a2.0 2.0 0 1 0 -4 0M428.9 405.8a2.0 2.0 0 1 0 4 0a2.0 2.0 0 1 0 -4 0M430.96 405.8a2.0 2.0 0 1 0 4 0a2.0 2.0 0 1 0 -4 0M433.02 405.8a2.0 2.0 0 1 0 4 0a2.0 2.0 0 1 0 -4 0M435.09 405.8a2.0 2.0 0 1 0 4 0a2.0 2.0 0 1 0 -4 0M437.15 405.8a2.0 2.0 0 1 0 4 0a2.0 2.0 0 1 0 -4 0M439.21 405.8a2.0 2.0 0 1 0 4 0a2.0 2.0 0 1 0 -4 0M441.27 405.8a2.0 2.0 0 1 0 4 0a2.0 2.0 0 1 0 -4 0M443.33 405.8a2.0 2.0 0 1 0 4 0a2.0 2.0 0 1 0 -4 0M445.39 405.8a2.0 2.0 0 1 0 4 0a2.0 2.0 0 1 0 -4 0M447.45 405.8a2.0 2.0 0 1 0 4 0a2.0 2.0 0 1 0 -4 0M449.51 405.8a2.0 2.0 0 1 0 4 0a2.0 2.0 0 1 0 -4 0M451.57 405.8a2.0 2.0 0 1 0 4 0a2.0 2.0 0 1 0 -4 0M453.63 405.8a2.0 2.0 0 1 0 4 0a2.0 2.0 0 1 0 -4 0M455.7 405.8a2.0 2.0 0 1 0 4 0a2.0 2.0 0 1 0 -4 0M457.76 405.8a2.0 2.0 0 1 0 4 0a2.0 2.0 0 1 0 -4 0M459.82 405.8a2.0 2.0 0 1 0 4 0a2.0 2.0 0 1 0 -4 0M461.88 405.8a2.0 2.0 0 1 0 4 0a2.0 2.0 0 1 0 -4 0M463.94 405.8a2.0 2.0 0 1 0 4 0a2.0 2.0 0 1 0 -4 0M466 405.8a2.0 2.0 0 1 0 4 0a2.0 2.0 0 1 0 -4 0M468.06 405.8a2.0 2.0 0 1 0 4 0a2.0 2.0 0 1 0 -4 0M470.12 405.8a2.0 2.0 0 1 0 4 0a2.0 2.0 0 1 0 -4 0M472.18 405.8a2.0 2.0 0 1 0 4 0a2.0 2.0 0 1 0 -4 0M474.24 405.8a2.0 2.0 0 1 0 4 0a2.0 2.0 0 1 0 -4 0M476.31 405.8a2.0 2.0 0 1 0 4 0a2.0 2.0 0 1 0 -4 0M478.37 405.8a2.0 2.0 0 1 0 4 0a2.0 2.0 0 1 0 -4 0M480.43 405.8a2.0 2.0 0 1 0 4 0a2.0 2.0 0 1 0 -4 0M482.49 405.8a2.0 2.0 0 1 0 4 0a2.0 2.0 0 1 0 -4 0M484.55 405.8a2.0 2.0 0 1 0 4 0a2.0 2.0 0 1 0 -4 0M486.61 405.8a2.0 2.0 0 1 0 4 0a2.0 2.0 0 1 0 -4 0M488.67 405.8a2.0 2.0 0 1 0 4 0a2.0 2.0 0 1 0 -4 0M490.73 405.8a2.0 2.0 0 1 0 4 0a2.0 2.0 0 1 0 -4 0M492.79 405.8a2.0 2.0 0 1 0 4 0a2.0 2.0 0 1 0 -4 0M494.85 405.8a2.0 2.0 0 1 0 4 0a2.0 2.0 0 1 0 -4 0M496.92 405.8a2.0 2.0 0 1 0 4 0a2.0 2.0 0 1 0 -4 0M498.98 405.8a2.0 2.0 0 1 0 4 0a2.0 2.0 0 1 0 -4 0M501.04 405.8a2.0 2.0 0 1 0 4 0a2.0 2.0 0 1 0 -4 0M503.1 405.8a2.0 2.0 0 1 0 4 0a2.0 2.0 0 1 0 -4 0M505.16 405.8a2.0 2.0 0 1 0 4 0a2.0 2.0 0 1 0 -4 0M507.22 405.8a2.0 2.0 0 1 0 4 0a2.0 2.0 0 1 0 -4 0M509.28 405.8a2.0 2.0 0 1 0 4 0a2.0 2.0 0 1 0 -4 0M511.34 405.8a2.0 2.0 0 1 0 4 0a2.0 2.0 0 1 0 -4 0M513.4 405.8a2.0 2.0 0 1 0 4 0a2.0 2.0 0 1 0 -4 0M515.46 405.8a2.0 2.0 0 1 0 4 0a2.0 2.0 0 1 0 -4 0M517.53 405.8a2.0 2.0 0 1 0 4 0a2.0 2.0 0 1 0 -4 0M519.59 405.8a2.0 2.0 0 1 0 4 0a2.0 2.0 0 1 0 -4 0M521.65 405.8a2.0 2.0 0 1 0 4 0a2.0 2.0 0 1 0 -4 0M523.71 405.8a2.0 2.0 0 1 0 4 0a2.0 2.0 0 1 0 -4 0M525.77 405.8a2.0 2.0 0 1 0 4 0a2.0 2.0 0 1 0 -4 0M527.83 405.8a2.0 2.0 0 1 0 4 0a2.0 2.0 0 1 0 -4 0M529.89 405.8a2.0 2.0 0 1 0 4 0a2.0 2.0 0 1 0 -4 0M531.95 405.8a2.0 2.0 0 1 0 4 0a2.0 2.0 0 1 0 -4 0M534.01 405.8a2.0 2.0 0 1 0 4 0a2.0 2.0 0 1 0 -4 0M536.07 405.8a2.0 2.0 0 1 0 4 0a2.0 2.0 0 1 0 -4 0M538.14 405.8a2.0 2.0 0 1 0 4 0a2.0 2.0 0 1 0 -4 0M540.2 405.8a2.0 2.0 0 1 0 4 0a2.0 2.0 0 1 0 -4 0M542.26 405.8a2.0 2.0 0 1 0 4 0a2.0 2.0 0 1 0 -4 0M544.32 405.8a2.0 2.0 0 1 0 4 0a2.0 2.0 0 1 0 -4 0M546.38 301.75a2.0 2.0 0 1 0 4 0a2.0 2.0 0 1 0 -4 0M548.44 287.84a2.0 2.0 0 1 0 4 0a2.0 2.0 0 1 0 -4 0M550.5 274.61a2.0 2.0 0 1 0 4 0a2.0 2.0 0 1 0 -4 0M552.56 273.04a2.0 2.0 0 1 0 4 0a2.0 2.0 0 1 0 -4 0M554.62 287.84a2.0 2.0 0 1 0 4 0a2.0 2.0 0 1 0 -4 0M556.68 275.74a2.0 2.0 0 1 0 4 0a2.0 2.0 0 1 0 -4 0M558.75 282.91a2.0 2.0 0 1 0 4 0a2.0 2.0 0 1 0 -4 0M560.81 279.77a2.0 2.0 0 1 0 4 0a2.0 2.0 0 1 0 -4 0M562.87 288.74a2.0 2.0 0 1 0 4 0a2.0 2.0 0 1 0 -4 0M564.93 273.04a2.0 2.0 0 1 0 4 0a2.0 2.0 0 1 0 -4 0M566.99 294.12a2.0 2.0 0 1 0 4 0a2.0 2.0 0 1 0 -4 0M569.05 285.15a2.0 2.0 0 1 0 4 0a2.0 2.0 0 1 0 -4 0M571.11 273.94a2.0 2.0 0 1 0 4 0a2.0 2.0 0 1 0 -4 0M573.17 296.59a2.0 2.0 0 1 0 4 0a2.0 2.0 0 1 0 -4 0M575.23 271.25a2.0 2.0 0 1 0 4 0a2.0 2.0 0 1 0 -4 0M577.29 275.74a2.0 2.0 0 1 0 4 0a2.0 2.0 0 1 0 -4 0M579.36 302.2a2.0 2.0 0 1 0 4 0a2.0 2.0 0 1 0 -4 0M581.42 280.67a2.0 2.0 0 1 0 4 0a2.0 2.0 0 1 0 -4 0M583.48 273.94a2.0 2.0 0 1 0 4 0a2.0 2.0 0 1 0 -4 0M585.54 288.29a2.0 2.0 0 1 0 4 0a2.0 2.0 0 1 0 -4 0M587.6 275.29a2.0 2.0 0 1 0 4 0a2.0 2.0 0 1 0 -4 0M589.66 281.79a2.0 2.0 0 1 0 4 0a2.0 2.0 0 1 0 -4 0M591.72 279.77a2.0 2.0 0 1 0 4 0a2.0 2.0 0 1 0 -4 0M593.78 283.36a2.0 2.0 0 1 0 4 0a2.0 2.0 0 1 0 -4 0M595.84 272.15a2.0 2.0 0 1 0 4 0a2.0 2.0 0 1 0 -4 0M597.9 292.33a2.0 2.0 0 1 0 4 0a2.0 2.0 0 1 0 -4 0M599.97 280.22a2.0 2.0 0 1 0 4 0a2.0 2.0 0 1 0 -4 0M602.03 294.12a2.0 2.0 0 1 0 4 0a2.0 2.0 0 1 0 -4 0M604.09 271.25a2.0 2.0 0 1 0 4 0a2.0 2.0 0 1 0 -4 0M606.15 275.74a2.0 2.0 0 1 0 4 0a2.0 2.0 0 1 0 -4 0M608.21 299.51a2.0 2.0 0 1 0 4 0a2.0 2.0 0 1 0 -4 0M610.27 280.22a2.0 2.0 0 1 0 4 0a2.0 2.0 0 1 0 -4 0M612.33 273.94a2.0 2.0 0 1 0 4 0a2.0 2.0 0 1 0 -4 0M614.39 284.7a2.0 2.0 0 1 0 4 0a2.0 2.0 0 1 0 -4 0M616.45 280.22a2.0 2.0 0 1 0 4 0a2.0 2.0 0 1 0 -4 0M618.51 273.94a2.0 2.0 0 1 0 4 0a2.0 2.0 0 1 0 -4 0M620.58 288.29a2.0 2.0 0 1 0 4 0a2.0 2.0 0 1 0 -4 0M622.64 282.91a2.0 2.0 0 1 0 4 0a2.0 2.0 0 1 0 -4 0M624.7 272.6a2.0 2.0 0 1 0 4 0a2.0 2.0 0 1 0 -4 0M626.76 290.98a2.0 2.0 0 1 0 4 0a2.0 2.0 0 1 0 -4 0M628.82 279.77a2.0 2.0 0 1 0 4 0a2.0 2.0 0 1 0 -4 0M630.88 290.54a2.0 2.0 0 1 0 4 0a2.0 2.0 0 1 0 -4 0M632.94 274.61a2.0 2.0 0 1 0 4 0a2.0 2.0 0 1 0 -4 0M635 286.05a2.0 2.0 0 1 0 4 0a2.0 2.0 0 1 0 -4 0M637.06 282.91a2.0 2.0 0 1 0 4 0a2.0 2.0 0 1 0 -4 0M639.12 273.94a2.0 2.0 0 1 0 4 0a2.0 2.0 0 1 0 -4 0M641.19 283.36a2.0 2.0 0 1 0 4 0a2.0 2.0 0 1 0 -4 0M643.25 277.53a2.0 2.0 0 1 0 4 0a2.0 2.0 0 1 0 -4 0M645.31 273.94a2.0 2.0 0 1 0 4 0a2.0 2.0 0 1 0 -4 0M647.37 288.29a2.0 2.0 0 1 0 4 0a2.0 2.0 0 1 0 -4 0M649.43 282.91a2.0 2.0 0 1 0 4 0a2.0 2.0 0 1 0 -4 0M651.49 272.6a2.0 2.0 0 1 0 4 0a2.0 2.0 0 1 0 -4 0M653.55 290.54a2.0 2.0 0 1 0 4 0a2.0 2.0 0 1 0 -4 0M655.61 279.77a2.0 2.0 0 1 0 4 0a2.0 2.0 0 1 0 -4 0M657.67 291.88a2.0 2.0 0 1 0 4 0a2.0 2.0 0 1 0 -4 0M659.73 276.18a2.0 2.0 0 1 0 4 0a2.0 2.0 0 1 0 -4 0M661.8 269.46a2.0 2.0 0 1 0 4 0a2.0 2.0 0 1 0 -4 0M663.86 299.51a2.0 2.0 0 1 0 4 0a2.0 2.0 0 1 0 -4 0M665.92 280.22a2.0 2.0 0 1 0 4 0a2.0 2.0 0 1 0 -4 0M667.98 273.94a2.0 2.0 0 1 0 4 0a2.0 2.0 0 1 0 -4 0M670.04 287.84a2.0 2.0 0 1 0 4 0a2.0 2.0 0 1 0 -4 0" fill="#ff7f0e"/>
<line x1="165.03" x2="216.56" y1="405.8" y2="405.8" stroke="#ff7f0e" stroke-width="4" stroke-linecap="round"/>
<line x1="270.14" x2="284.57" y1="405.8" y2="405.8" stroke="#ff7f0e" stroke-width="4" stroke-linecap="round"/>
<line x1="406.17" x2="546.32" y1="405.8" y2="405.8" stroke="#ff7f0e" stroke-width="4" stroke-linecap="round"/>
</g>
<rect x="55.8" y="254.9" width="618.3" height="158.2" fill="none" stroke="#000" stroke-width="1.25"/>
<line x1="55.8" x2="55.8" y1="413.1" y2="417.7" stroke="#000" stroke-width="1.1"/>
<text class="t" x="55.8" y="431.2" font-size="12.6" text-anchor="middle">0</text>
<line x1="158.85" x2="158.85" y1="413.1" y2="417.7" stroke="#000" stroke-width="1.1"/>
<text class="t" x="158.85" y="431.2" font-size="12.6" text-anchor="middle">50</text>
<line x1="261.9" x2="261.9" y1="413.1" y2="417.7" stroke="#000" stroke-width="1.1"/>
<text class="t" x="261.9" y="431.2" font-size="12.6" text-anchor="middle">100</text>
<line x1="364.95" x2="364.95" y1="413.1" y2="417.7" stroke="#000" stroke-width="1.1"/>
<text class="t" x="364.95" y="431.2" font-size="12.6" text-anchor="middle">150</text>
<line x1="468" x2="468" y1="413.1" y2="417.7" stroke="#000" stroke-width="1.1"/>
<text class="t" x="468" y="431.2" font-size="12.6" text-anchor="middle">200</text>
<line x1="571.05" x2="571.05" y1="413.1" y2="417.7" stroke="#000" stroke-width="1.1"/>
<text class="t" x="571.05" y="431.2" font-size="12.6" text-anchor="middle">250</text>
<line x1="674.1" x2="674.1" y1="413.1" y2="417.7" stroke="#000" stroke-width="1.1"/>
<text class="t" x="674.1" y="431.2" font-size="12.6" text-anchor="middle">300</text>
<line x1="51.2" x2="55.8" y1="405.8" y2="405.8" stroke="#000" stroke-width="1.1"/>
<text class="t" x="47.4" y="410.8" font-size="12.6" text-anchor="end">0</text>
<line x1="51.2" x2="55.8" y1="360.95" y2="360.95" stroke="#000" stroke-width="1.1"/>
<text class="t" x="47.4" y="365.95" font-size="12.6" text-anchor="end">10</text>
<line x1="51.2" x2="55.8" y1="316.1" y2="316.1" stroke="#000" stroke-width="1.1"/>
<text class="t" x="47.4" y="321.1" font-size="12.6" text-anchor="end">20</text>
<line x1="51.2" x2="55.8" y1="271.25" y2="271.25" stroke="#000" stroke-width="1.1"/>
<text class="t" x="47.4" y="276.25" font-size="12.6" text-anchor="end">30</text>
<text transform="translate(364.95 449.85) scale(1.05 1)" font-size="14.2" text-anchor="middle">Timeslot Index</text>
<rect x="556.4" y="348.4" width="111.2" height="58.2" rx="2.5" ry="2.5" fill="#fff" fill-opacity="0.8" stroke="#ccc" stroke-opacity="0.8" stroke-width="1.1"/>
<line x1="561" x2="587.4" y1="358.7" y2="358.7" stroke="#1f77b4" stroke-width="2.0"/>
<circle cx="574.2" cy="358.7" r="1.9" fill="#1f77b4"/>
<text class="t" x="596.6" y="363.1" font-size="12.5">VQGAN</text>
<line x1="561" x2="587.4" y1="376.65" y2="376.65" stroke="#2ca02c" stroke-width="2.0"/>
<circle cx="574.2" cy="376.65" r="1.9" fill="#2ca02c"/>
<text class="t" x="596.6" y="381.05" font-size="12.5">Hyperprior</text>
<line x1="561" x2="587.4" y1="394.6" y2="394.6" stroke="#ff7f0e" stroke-width="2.0"/>
<circle cx="574.2" cy="394.6" r="1.9" fill="#ff7f0e"/>
<text class="t" x="596.6" y="399" font-size="12.5">Webp</text>
<text transform="translate(364.95 246.9) scale(1.05 1)" font-size="16.67" text-anchor="middle">PSNR (dB)</text>
<text transform="translate(22.4 334) scale(1.025 1) rotate(-90)" font-size="14.55" text-anchor="middle">PSNR (dB)</text>
<line x1="158.85" x2="158.85" y1="488.6" y2="646.8" stroke="#b0b0b0" stroke-width="1.1"/>
<line x1="261.9" x2="261.9" y1="488.6" y2="646.8" stroke="#b0b0b0" stroke-width="1.1"/>
<line x1="364.95" x2="364.95" y1="488.6" y2="646.8" stroke="#b0b0b0" stroke-width="1.1"/>
<line x1="468" x2="468" y1="488.6" y2="646.8" stroke="#b0b0b0" stroke-width="1.1"/>
<line x1="571.05" x2="571.05" y1="488.6" y2="646.8" stroke="#b0b0b0" stroke-width="1.1"/>
<line x1="55.8" x2="674.1" y1="641.5" y2="641.5" stroke="#b0b0b0" stroke-width="1.1"/>
<line x1="55.8" x2="674.1" y1="600.36" y2="600.36" stroke="#b0b0b0" stroke-width="1.1"/>
<line x1="55.8" x2="674.1" y1="559.22" y2="559.22" stroke="#b0b0b0" stroke-width="1.1"/>
<line x1="55.8" x2="674.1" y1="518.08" y2="518.08" stroke="#b0b0b0" stroke-width="1.1"/>
<path d="M55.8 639.44 L57.76 637.68 L57.76 639.44 L59.72 637.68 L59.72 639.44 L63.84 635.33 L63.84 639.44 L66.11 637.18 L66.11 639.44 L70.23 635.33 L70.23 639.44 L72.28 637.6 L72.28 639.44 L74.34 637.6 L74.34 639.44 L76.39 637.6 L76.39 639.44 L78.45 637.6 L78.45 639.44 L80.5 637.6 L80.5 639.44 L82.56 637.6 L82.56 639.44 L84.62 637.6 L84.62 639.44 L86.67 637.6 L86.67 639.44 L88.73 637.6 L88.73 639.44 L90.78 637.6 L90.78 639.44 L92.84 637.6 L92.84 639.44 L94.89 637.6 L94.89 639.44 L96.95 637.6 L96.95 639.44 L99.01 637.6 L99.01 639.44 L101.06 637.6 L101.06 639.44 L103.12 637.6 L103.12 639.44 L105.17 637.6 L105.17 639.44 L107.23 637.6 L107.23 639.44 L109.28 637.6 L109.28 639.44 L111.34 637.6 L111.34 639.44 L113.39 637.6 L113.39 639.44 L115.45 637.6 L115.45 639.44 L117.51 637.6 L117.51 639.44 L119.56 637.6 L119.56 639.44 L121.62 637.6 L121.62 639.44 L123.67 637.6 L123.67 639.44 L125.73 637.6 L125.73 639.44 L127.78 637.6 L127.78 639.44 L129.84 637.6 L129.84 639.44 L131.89 637.6 L131.89 639.44 L133.95 637.6 L133.95 639.44 L136.01 637.6 L136.01 639.44 L138.06 637.6 L138.06 639.44 L140.12 637.6 L140.12 639.44 L142.17 637.6 L142.17 639.44 L144.23 637.6 L144.23 639.44 L146.28 637.6 L146.28 639.44 L148.34 637.6 L148.34 639.44 L152.46 635.33 L152.46 639.44 L154.73 637.18 L154.73 639.44 L158.85 635.33 L158.85 639.44 L160.91 637.59 L160.91 639.44 L162.97 637.59 L162.97 639.44 L165.03 637.59 L165.03 639.44 L167.09 637.59 L167.09 639.44 L175.34 631.22 L175.34 639.44 L177.4 637.59 L177.4 639.44 L204.19 612.7 L204.19 639.44 L211.61 632.04 L211.61 639.44 L215.73 635.33 L215.73 639.44 L219.86 635.33 L219.86 639.44 L222.33 636.97 L222.33 639.44 L226.45 635.33 L226.45 639.44 L228.37 637.72 L228.37 639.44 L230.3 637.72 L230.3 639.44 L232.22 637.72 L232.22 639.44 L236.34 635.33 L236.34 639.44 L238.37 637.62 L238.37 639.44 L240.4 637.62 L240.4 639.44 L242.42 637.62 L242.42 639.44 L244.45 637.62 L244.45 639.44 L246.48 637.62 L246.48 639.44 L248.5 637.62 L248.5 639.44 L252.63 635.33 L252.63 639.44 L252.83 639.26 L252.83 639.44 L256.95 635.33 L256.95 639.44 L258.96 637.64 L258.96 639.44 L260.97 637.64 L260.97 639.44 L262.98 637.64 L262.98 639.44 L264.99 637.64 L264.99 639.44 L271.17 633.27 L271.17 639.44 L273.34 637.5 L273.34 639.44 L275.5 637.5 L275.5 639.44 L282.51 632.45 L282.51 639.44 L284.36 637.78 L284.36 639.44 L286.22 637.78 L286.22 639.44 L290.34 635.33 L290.34 639.44 L293.02 636.77 L293.02 639.44 L295.7 636.77 L295.7 639.44 L297.74 637.61 L297.74 639.44 L299.77 637.61 L299.77 639.44 L301.81 637.61 L301.81 639.44 L303.84 637.61 L303.84 639.44 L305.88 637.61 L305.88 639.44 L307.91 637.61 L307.91 639.44 L309.95 637.61 L309.95 639.44 L311.98 637.61 L311.98 639.44 L314.02 637.61 L314.02 639.44 L316.05 637.61 L316.05 639.44 L318.09 637.61 L318.09 639.44 L320.12 637.61 L320.12 639.44 L322.16 637.61 L322.16 639.44 L324.19 637.61 L324.19 639.44 L326.23 637.61 L326.23 639.44 L328.26 637.61 L328.26 639.44 L330.3 637.61 L330.3 639.44 L332.33 637.61 L332.33 639.44 L334.37 637.61 L334.37 639.44 L336.41 637.61 L336.41 639.44 L338.44 637.61 L338.44 639.44 L340.48 637.61 L340.48 639.44 L342.51 637.61 L342.51 639.44 L344.55 637.61 L344.55 639.44 L346.58 637.61 L346.58 639.44 L348.62 637.61 L348.62 639.44 L350.65 637.61 L350.65 639.44 L352.69 637.61 L352.69 639.44 L354.72 637.61 L354.72 639.44 L356.76 637.61 L356.76 639.44 L358.79 637.61 L358.79 639.44 L360.83 637.61 L360.83 639.44 L362.86 637.61 L362.86 639.44 L364.9 637.61 L364.9 639.44 L366.93 637.61 L366.93 639.44 L368.97 637.61 L368.97 639.44 L371 637.61 L371 639.44 L373.04 637.61 L373.04 639.44 L375.07 637.61 L375.07 639.44 L377.11 637.61 L377.11 639.44 L381.23 635.33 L381.23 639.44 L383.26 637.62 L383.26 639.44 L385.29 637.62 L385.29 639.44 L387.31 637.62 L387.31 639.44 L389.34 637.62 L389.34 639.44 L391.37 637.62 L391.37 639.44 L393.39 637.62 L393.39 639.44 L397.51 635.33 L397.51 639.44 L399.85 637.11 L399.85 639.44 L402.19 637.11 L402.19 639.44 L404.52 637.11 L404.52 639.44 L409.26 634.71 L409.26 639.44 L414.41 634.3 L414.41 639.44 L421.63 632.24 L421.63 639.44 L427.81 633.27 L427.81 639.44 L435.02 632.24 L435.02 639.44 L440.18 634.3 L440.18 639.44 L445.33 634.3 L445.33 639.44 L451.51 633.27 L451.51 639.44 L457.7 633.27 L457.7 639.44 L465.94 631.22 L465.94 639.44 L468 637.59 L468 639.44 L509.22 598.3 L510.87 637.96 L510.87 639.44 L519.01 631.32 L519.01 639.44 L524.88 633.58 L524.88 639.44 L531.07 633.27 L531.07 639.44 L536.84 633.68 L536.84 639.44 L542.81 633.48 L542.81 639.44 L548.79 633.48 L548.79 639.44 L549.2 639.07 L549.2 639.44 L553.33 635.33 L553.33 639.44 L553.74 639.07 L553.74 639.44 L557.86 635.33 L557.86 639.44 L558.27 639.07 L558.27 639.44 L562.39 635.33 L562.39 639.44 L565.28 636.56 L565.28 639.44 L569.4 635.33 L569.4 639.44 L570.84 638.15 L570.84 639.44 L574.97 635.33 L574.97 639.44 L579.09 635.33 L579.09 639.44 L583.21 635.33 L583.21 639.44 L584.65 638.15 L584.65 639.44 L588.77 635.33 L588.77 639.44 L588.98 639.26 L588.98 639.44 L593.1 635.33 L593.1 639.44 L595.37 637.18 L595.37 639.44 L599.49 635.33 L599.49 639.44 L603.61 635.33 L603.61 639.44 L605.88 637.18 L605.88 639.44 L610 635.33 L610 639.44 L612.06 637.59 L612.06 639.44 L616.19 635.33 L616.19 639.44 L618.21 637.63 L618.21 639.44 L620.23 637.63 L620.23 639.44 L622.25 637.63 L622.25 639.44 L624.27 637.63 L624.27 639.44 L626.28 637.63 L626.28 639.44 L630.41 635.33 L630.41 639.44 L632.47 637.59 L632.47 639.44 L636.59 635.33 L636.59 639.44 L638.65 637.59 L638.65 639.44 L640.71 637.59 L640.71 639.44 L642.77 637.59 L642.77 639.44 L644.83 637.59 L644.83 639.44 L646.89 637.59 L646.89 639.44 L651.02 635.33 L651.02 639.44 L653.28 637.18 L653.28 639.44 L657.41 635.33 L657.41 639.44 L659.39 637.66 L659.39 639.44 L661.37 637.66 L661.37 639.44 L663.36 637.66 L663.36 639.44 L665.34 637.66 L665.34 639.44 L667.32 637.66 L667.32 639.44 L669.31 637.66 L669.31 639.44 L671.29 637.66 L671.29 639.44 L673.28 637.66 L673.28 639.44" fill="none" stroke="#1f77b4" stroke-width="2.0" stroke-linejoin="round" clip-path="url(#c2)"/>
<path d="M55.8 639.44 L57.86 637.59 L57.86 639.44 L59.92 637.59 L59.92 639.44 L61.98 637.59 L61.98 639.44 L64.04 637.59 L64.04 639.44 L66.11 637.59 L66.11 639.44 L68.17 637.59 L68.17 639.44 L70.23 637.59 L70.23 639.44 L72.29 637.59 L72.29 639.44 L74.35 637.59 L74.35 639.44 L76.41 637.59 L76.41 639.44 L78.47 637.59 L78.47 639.44 L80.53 637.59 L80.53 639.44 L82.59 637.59 L82.59 639.44 L84.65 637.59 L84.65 639.44 L86.72 637.59 L86.72 639.44 L88.78 637.59 L88.78 639.44 L90.84 637.59 L90.84 639.44 L92.9 637.59 L92.9 639.44 L94.96 637.59 L94.96 639.44 L97.02 637.59 L97.02 639.44 L99.08 637.59 L99.08 639.44 L101.14 637.59 L101.14 639.44 L103.2 637.59 L103.2 639.44 L105.26 637.59 L105.26 639.44 L107.33 637.59 L107.33 639.44 L109.39 637.59 L109.39 639.44 L111.45 637.59 L111.45 639.44 L113.51 637.59 L113.51 639.44 L115.57 637.59 L115.57 639.44 L117.63 637.59 L117.63 639.44 L119.69 637.59 L119.69 639.44 L121.75 637.59 L121.75 639.44 L123.81 637.59 L123.81 639.44 L125.87 637.59 L125.87 639.44 L127.94 637.59 L127.94 639.44 L130 637.59 L130 639.44 L132.06 637.59 L132.06 639.44 L134.12 637.59 L134.12 639.44 L136.18 637.59 L136.18 639.44 L138.24 637.59 L138.24 639.44 L140.3 637.59 L140.3 639.44 L142.36 637.59 L142.36 639.44 L144.42 637.59 L144.42 639.44 L146.48 637.59 L146.48 639.44 L148.55 637.59 L148.55 639.44 L150.61 637.59 L150.61 639.44 L152.67 637.59 L152.67 639.44 L154.73 637.59 L154.73 639.44 L156.79 637.59 L156.79 639.44 L158.85 637.59 L158.85 639.44 L162.97 635.33 L162.97 639.44 L164.72 637.87 L164.72 639.44 L166.48 637.87 L166.48 639.44 L170.6 635.33 L170.6 639.44 L173.28 636.77 L173.28 639.44 L183.58 629.16 L183.58 639.44 L200.48 622.58 L200.48 639.44 L206.46 633.48 L206.46 639.44 L210.38 635.53 L210.38 639.44 L214.5 635.33 L214.5 639.44 L218.62 635.33 L218.62 639.44 L220.56 637.7 L220.56 639.44 L222.49 637.7 L222.49 639.44 L224.43 637.7 L224.43 639.44 L226.37 637.7 L226.37 639.44 L228.31 637.7 L228.31 639.44 L232.43 635.33 L232.43 639.44 L234.56 637.53 L234.56 639.44 L236.69 637.53 L236.69 639.44 L238.82 637.53 L238.82 639.44 L242.94 635.33 L242.94 639.44 L243.35 639.07 L243.35 639.44 L247.47 635.33 L247.47 639.44 L249.79 637.13 L249.79 639.44 L252.11 637.13 L252.11 639.44 L254.43 637.13 L254.43 639.44 L256.75 637.13 L256.75 639.44 L260.87 635.33 L260.87 639.44 L263.19 637.13 L263.19 639.44 L265.51 637.13 L265.51 639.44 L267.83 637.13 L267.83 639.44 L270.14 637.13 L270.14 639.44 L275.71 633.89 L275.71 639.44 L279.21 635.95 L279.21 639.44 L282.72 635.95 L282.72 639.44 L286.63 635.53 L286.63 639.44 L288.68 637.6 L288.68 639.44 L290.73 637.6 L290.73 639.44 L292.78 637.6 L292.78 639.44 L294.83 637.6 L294.83 639.44 L296.88 637.6 L296.88 639.44 L298.93 637.6 L298.93 639.44 L300.98 637.6 L300.98 639.44 L303.03 637.6 L303.03 639.44 L305.08 637.6 L305.08 639.44 L307.13 637.6 L307.13 639.44 L309.18 637.6 L309.18 639.44 L311.23 637.6 L311.23 639.44 L313.28 637.6 L313.28 639.44 L315.33 637.6 L315.33 639.44 L317.38 637.6 L317.38 639.44 L319.42 637.6 L319.42 639.44 L321.47 637.6 L321.47 639.44 L323.52 637.6 L323.52 639.44 L325.57 637.6 L325.57 639.44 L327.62 637.6 L327.62 639.44 L329.67 637.6 L329.67 639.44 L331.72 637.6 L331.72 639.44 L333.77 637.6 L333.77 639.44 L335.82 637.6 L335.82 639.44 L337.87 637.6 L337.87 639.44 L339.92 637.6 L339.92 639.44 L341.97 637.6 L341.97 639.44 L344.02 637.6 L344.02 639.44 L346.07 637.6 L346.07 639.44 L348.12 637.6 L348.12 639.44 L350.17 637.6 L350.17 639.44 L352.22 637.6 L352.22 639.44 L354.27 637.6 L354.27 639.44 L356.32 637.6 L356.32 639.44 L358.37 637.6 L358.37 639.44 L360.42 637.6 L360.42 639.44 L362.47 637.6 L362.47 639.44 L364.51 637.6 L364.51 639.44 L366.56 637.6 L366.56 639.44 L368.61 637.6 L368.61 639.44 L370.66 637.6 L370.66 639.44 L372.71 637.6 L372.71 639.44 L374.76 637.6 L374.76 639.44 L376.81 637.6 L376.81 639.44 L378.86 637.6 L378.86 639.44 L380.91 637.6 L380.91 639.44 L382.96 637.6 L382.96 639.44 L385.01 637.6 L385.01 639.44 L387.06 637.6 L387.06 639.44 L389.11 637.6 L389.11 639.44 L391.16 637.6 L391.16 639.44 L393.21 637.6 L393.21 639.44 L395.26 637.6 L395.26 639.44 L397.31 637.6 L397.31 639.44 L401.43 635.33 L401.43 639.44 L403.8 637.08 L403.8 639.44 L406.17 637.08 L406.17 639.44 L411.73 633.89 L411.73 639.44 L416.48 634.71 L416.48 639.44 L421.22 634.71 L421.22 639.44 L427.19 633.48 L427.19 639.44 L430.9 635.74 L430.9 639.44 L435.02 635.33 L435.02 639.44 L439.15 635.33 L439.15 639.44 L443.27 635.33 L443.27 639.44 L449.66 633.07 L449.66 639.44 L455.43 633.68 L455.43 639.44 L460.79 634.09 L460.79 639.44 L465.94 634.3 L465.94 639.44 L471.3 634.09 L471.3 639.44 L505.2 605.61 L505.2 639.44 L515.51 629.16 L515.51 639.44 L521.79 633.17 L521.79 639.44 L527.77 633.48 L527.77 639.44 L533.95 633.27 L533.95 639.44 L539.93 633.48 L539.93 639.44 L545.91 633.48 L545.91 639.44 L550.65 634.71 L550.65 639.44 L552.4 637.87 L552.4 639.44 L554.15 637.87 L554.15 639.44 L558.27 635.33 L558.27 639.44 L560.61 637.11 L560.61 639.44 L562.94 637.11 L562.94 639.44 L565.28 637.11 L565.28 639.44 L569.4 635.33 L569.4 639.44 L571.42 637.63 L571.42 639.44 L573.44 637.63 L573.44 639.44 L575.46 637.63 L575.46 639.44 L577.48 637.63 L577.48 639.44 L579.5 637.63 L579.5 639.44 L581.52 637.63 L581.52 639.44 L583.54 637.63 L583.54 639.44 L585.56 637.63 L585.56 639.44 L587.58 637.63 L587.58 639.44 L589.6 637.63 L589.6 639.44 L591.62 637.63 L591.62 639.44 L593.64 637.63 L593.64 639.44 L595.66 637.63 L595.66 639.44 L597.68 637.63 L597.68 639.44 L599.7 637.63 L599.7 639.44 L601.72 637.63 L601.72 639.44 L603.74 637.63 L603.74 639.44 L605.76 637.63 L605.76 639.44 L607.78 637.63 L607.78 639.44 L609.8 637.63 L609.8 639.44 L613.92 635.33 L613.92 639.44 L615.98 637.59 L615.98 639.44 L618.04 637.59 L618.04 639.44 L620.1 637.59 L620.1 639.44 L624.22 635.33 L624.22 639.44 L626.28 637.59 L626.28 639.44 L628.35 637.59 L628.35 639.44 L630.41 637.59 L630.41 639.44 L632.47 637.59 L632.47 639.44 L634.53 637.59 L634.53 639.44 L636.59 637.59 L636.59 639.44 L638.65 637.59 L638.65 639.44 L640.71 637.59 L640.71 639.44 L642.77 637.59 L642.77 639.44 L644.83 637.59 L644.83 639.44 L646.89 637.59 L646.89 639.44 L648.96 637.59 L648.96 639.44 L651.02 637.59 L651.02 639.44 L655.14 635.33 L655.14 639.44 L657.15 637.63 L657.15 639.44 L659.17 637.63 L659.17 639.44 L661.18 637.63 L661.18 639.44 L663.2 637.63 L663.2 639.44 L665.21 637.63 L665.21 639.44 L667.23 637.63 L667.23 639.44 L669.25 637.63 L669.25 639.44 L671.26 637.63 L671.26 639.44 L673.28 637.63 L673.28 639.44" fill="none" stroke="#2ca02c" stroke-width="2.0" stroke-linejoin="round" clip-path="url(#c2)"/>
<path d="M55.8 639.85 L57.86 637.28 L57.86 639.85 L59.92 637.28 L59.92 639.85 L61.98 637.28 L61.98 639.85 L64.04 637.28 L64.04 639.85 L66.11 637.28 L66.11 639.85 L68.17 637.28 L68.17 639.85 L70.23 637.28 L70.23 639.85 L72.29 637.28 L72.29 639.85 L74.35 637.28 L74.35 639.85 L76.41 637.28 L76.41 639.85 L78.47 637.28 L78.47 639.85 L80.53 637.28 L80.53 639.85 L82.59 637.28 L82.59 639.85 L84.65 637.28 L84.65 639.85 L86.72 637.28 L86.72 639.85 L88.78 637.28 L88.78 639.85 L90.84 637.28 L90.84 639.85 L92.9 637.28 L92.9 639.85 L94.96 637.28 L94.96 639.85 L97.02 637.28 L97.02 639.85 L99.08 637.28 L99.08 639.85 L101.14 637.28 L101.14 639.85 L103.2 637.28 L103.2 639.85 L105.26 637.28 L105.26 639.85 L107.33 637.28 L107.33 639.85 L109.39 637.28 L109.39 639.85 L111.45 637.28 L111.45 639.85 L113.51 637.28 L113.51 639.85 L115.57 637.28 L115.57 639.85 L117.63 637.28 L117.63 639.85 L119.69 637.28 L119.69 639.85 L121.75 637.28 L121.75 639.85 L123.81 637.28 L123.81 639.85 L125.87 637.28 L125.87 639.85 L127.94 637.28 L127.94 639.85 L130 637.28 L130 639.85 L132.06 637.28 L132.06 639.85 L134.12 637.28 L134.12 639.85 L136.18 637.28 L136.18 639.85 L138.24 637.28 L138.24 639.85 L140.3 637.28 L140.3 639.85 L142.36 637.28 L142.36 639.85 L144.42 637.28 L144.42 639.85 L146.48 637.28 L146.48 639.85 L148.55 637.28 L148.55 639.85 L150.61 637.28 L150.61 639.85 L152.67 637.28 L152.67 639.85 L154.73 637.28 L154.73 639.85 L156.79 637.28 L156.79 639.85 L158.85 637.28 L158.85 639.85 L160.91 637.28 L160.91 639.85 L162.97 637.28 L162.97 639.44 L218.62 583.9 L218.62 639.85 L220.68 637.28 L220.68 639.85 L222.74 637.28 L222.74 639.85 L224.8 637.28 L224.8 639.85 L226.86 637.28 L226.86 639.85 L228.92 637.28 L228.92 639.85 L230.99 637.28 L230.99 639.85 L233.05 637.28 L233.05 639.85 L235.11 637.28 L235.11 639.85 L237.17 637.28 L237.17 639.85 L239.23 637.28 L239.23 639.85 L241.29 637.28 L241.29 639.85 L243.35 637.28 L243.35 639.85 L245.41 637.28 L245.41 639.85 L247.47 637.28 L247.47 639.85 L249.53 637.28 L249.53 639.85 L251.6 637.28 L251.6 639.85 L253.66 637.28 L253.66 639.85 L255.72 637.28 L255.72 639.85 L257.78 637.28 L257.78 639.85 L259.84 637.28 L259.84 639.85 L261.9 637.28 L261.9 639.85 L263.96 637.28 L263.96 639.85 L266.02 637.28 L266.02 639.85 L268.08 637.28 L268.08 639.44 L286.63 620.93 L286.63 639.85 L288.69 637.28 L288.69 639.85 L290.75 637.28 L290.75 639.85 L292.82 637.28 L292.82 639.85 L294.88 637.28 L294.88 639.85 L296.94 637.28 L296.94 639.85 L299 637.28 L299 639.85 L301.06 637.28 L301.06 639.85 L303.12 637.28 L303.12 639.85 L305.18 637.28 L305.18 639.85 L307.24 637.28 L307.24 639.85 L309.3 637.28 L309.3 639.85 L311.36 637.28 L311.36 639.85 L313.43 637.28 L313.43 639.85 L315.49 637.28 L315.49 639.85 L317.55 637.28 L317.55 639.85 L319.61 637.28 L319.61 639.85 L321.67 637.28 L321.67 639.85 L323.73 637.28 L323.73 639.85 L325.79 637.28 L325.79 639.85 L327.85 637.28 L327.85 639.85 L329.91 637.28 L329.91 639.85 L331.97 637.28 L331.97 639.85 L334.04 637.28 L334.04 639.85 L336.1 637.28 L336.1 639.85 L338.16 637.28 L338.16 639.85 L340.22 637.28 L340.22 639.85 L342.28 637.28 L342.28 639.85 L344.34 637.28 L344.34 639.85 L346.4 637.28 L346.4 639.85 L348.46 637.28 L348.46 639.85 L350.52 637.28 L350.52 639.85 L352.58 637.28 L352.58 639.85 L354.65 637.28 L354.65 639.85 L356.71 637.28 L356.71 639.85 L358.77 637.28 L358.77 639.85 L360.83 637.28 L360.83 639.85 L362.89 637.28 L362.89 639.85 L364.95 637.28 L364.95 639.85 L367.01 637.28 L367.01 639.85 L369.07 637.28 L369.07 639.85 L371.13 637.28 L371.13 639.85 L373.19 637.28 L373.19 639.85 L375.26 637.28 L375.26 639.85 L377.32 637.28 L377.32 639.85 L379.38 637.28 L379.38 639.85 L381.44 637.28 L381.44 639.85 L383.5 637.28 L383.5 639.85 L385.56 637.28 L385.56 639.85 L387.62 637.28 L387.62 639.85 L389.68 637.28 L389.68 639.85 L391.74 637.28 L391.74 639.85 L393.8 637.28 L393.8 639.85 L395.87 637.28 L395.87 639.85 L397.93 637.28 L397.93 639.85 L399.99 637.28 L399.99 639.85 L402.05 637.28 L402.05 639.85 L404.11 637.28 L404.11 639.44 L548.38 495.45 L548.38 639.85 L550.43 637.3 L550.43 639.85 L552.47 637.3 L552.47 639.85 L554.52 637.3 L554.52 639.85 L556.57 637.3 L556.57 639.85 L558.62 637.3 L558.62 639.85 L560.66 637.3 L560.66 639.85 L562.71 637.3 L562.71 639.85 L564.76 637.3 L564.76 639.85 L566.81 637.3 L566.81 639.85 L568.85 637.3 L568.85 639.85 L570.9 637.3 L570.9 639.85 L572.95 637.3 L572.95 639.85 L575 637.3 L575 639.85 L577.04 637.3 L577.04 639.85 L579.09 637.3 L579.09 639.85 L581.14 637.3 L581.14 639.85 L583.19 637.3 L583.19 639.85 L585.23 637.3 L585.23 639.85 L587.28 637.3 L587.28 639.85 L589.33 637.3 L589.33 639.85 L591.38 637.3 L591.38 639.85 L593.42 637.3 L593.42 639.85 L595.47 637.3 L595.47 639.85 L597.52 637.3 L597.52 639.85 L599.57 637.3 L599.57 639.85 L601.61 637.3 L601.61 639.85 L603.66 637.3 L603.66 639.85 L605.71 637.3 L605.71 639.85 L607.76 637.3 L607.76 639.85 L609.8 637.3 L609.8 639.85 L611.85 637.3 L611.85 639.85 L613.9 637.3 L613.9 639.85 L615.95 637.3 L615.95 639.85 L617.99 637.3 L617.99 639.85 L620.04 637.3 L620.04 639.85 L622.09 637.3 L622.09 639.85 L624.14 637.3 L624.14 639.85 L626.18 637.3 L626.18 639.85 L628.23 637.3 L628.23 639.85 L630.28 637.3 L630.28 639.85 L632.33 637.3 L632.33 639.85 L634.37 637.3 L634.37 639.85 L636.42 637.3 L636.42 639.85 L638.47 637.3 L638.47 639.85 L640.52 637.3 L640.52 639.85 L642.56 637.3 L642.56 639.85 L644.61 637.3 L644.61 639.85 L646.66 637.3 L646.66 639.85 L648.71 637.3 L648.71 639.85 L650.75 637.3 L650.75 639.85 L652.8 637.3 L652.8 639.85 L654.85 637.3 L654.85 639.85 L656.9 637.3 L656.9 639.85 L658.94 637.3 L658.94 639.85 L660.99 637.3 L660.99 639.85 L663.04 637.3 L663.04 639.85 L665.09 637.3 L665.09 639.85 L667.13 637.3 L667.13 639.85 L669.18 637.3 L669.18 639.85 L671.23 637.3 L671.23 639.85 L673.28 637.3 L673.28 639.85" fill="none" stroke="#ff7f0e" stroke-width="2.0" stroke-linejoin="round" clip-path="url(#c2)"/>
<rect x="55.8" y="488.6" width="618.3" height="158.2" fill="none" stroke="#000" stroke-width="1.25"/>
<line x1="55.8" x2="55.8" y1="646.8" y2="651.4" stroke="#000" stroke-width="1.1"/>
<text class="t" x="55.8" y="664.9" font-size="12.6" text-anchor="middle">0</text>
<line x1="158.85" x2="158.85" y1="646.8" y2="651.4" stroke="#000" stroke-width="1.1"/>
<text class="t" x="158.85" y="664.9" font-size="12.6" text-anchor="middle">50</text>
<line x1="261.9" x2="261.9" y1="646.8" y2="651.4" stroke="#000" stroke-width="1.1"/>
<text class="t" x="261.9" y="664.9" font-size="12.6" text-anchor="middle">100</text>
<line x1="364.95" x2="364.95" y1="646.8" y2="651.4" stroke="#000" stroke-width="1.1"/>
<text class="t" x="364.95" y="664.9" font-size="12.6" text-anchor="middle">150</text>
<line x1="468" x2="468" y1="646.8" y2="651.4" stroke="#000" stroke-width="1.1"/>
<text class="t" x="468" y="664.9" font-size="12.6" text-anchor="middle">200</text>
<line x1="571.05" x2="571.05" y1="646.8" y2="651.4" stroke="#000" stroke-width="1.1"/>
<text class="t" x="571.05" y="664.9" font-size="12.6" text-anchor="middle">250</text>
<line x1="674.1" x2="674.1" y1="646.8" y2="651.4" stroke="#000" stroke-width="1.1"/>
<text class="t" x="674.1" y="664.9" font-size="12.6" text-anchor="middle">300</text>
<line x1="51.2" x2="55.8" y1="641.5" y2="641.5" stroke="#000" stroke-width="1.1"/>
<text class="t" x="47.4" y="646.5" font-size="12.6" text-anchor="end">0</text>
<line x1="51.2" x2="55.8" y1="600.36" y2="600.36" stroke="#000" stroke-width="1.1"/>
<text class="t" x="47.4" y="605.36" font-size="12.6" text-anchor="end">20</text>
<line x1="51.2" x2="55.8" y1="559.22" y2="559.22" stroke="#000" stroke-width="1.1"/>
<text class="t" x="47.4" y="564.22" font-size="12.6" text-anchor="end">40</text>
<line x1="51.2" x2="55.8" y1="518.08" y2="518.08" stroke="#000" stroke-width="1.1"/>
<text class="t" x="47.4" y="523.08" font-size="12.6" text-anchor="end">60</text>
<text transform="translate(364.95 683.55) scale(1.05 1)" font-size="14.2" text-anchor="middle">Timeslot Index</text>
<rect x="556.4" y="494.5" width="111.2" height="58.2" rx="2.5" ry="2.5" fill="#fff" fill-opacity="0.8" stroke="#ccc" stroke-opacity="0.8" stroke-width="1.1"/>
<line x1="561" x2="587.4" y1="504.8" y2="504.8" stroke="#1f77b4" stroke-width="2.0"/>
<text class="t" x="596.6" y="509.2" font-size="12.5">VQGAN</text>
<line x1="561" x2="587.4" y1="522.75" y2="522.75" stroke="#2ca02c" stroke-width="2.0"/>
<text class="t" x="596.6" y="527.15" font-size="12.5">Hyperprior</text>
<line x1="561" x2="587.4" y1="540.7" y2="540.7" stroke="#ff7f0e" stroke-width="2.0"/>
<text class="t" x="596.6" y="545.1" font-size="12.5">Webp</text>
<text transform="translate(364.95 480.6) scale(1.05 1)" font-size="16.67" text-anchor="middle">Image Waiting Time <tspan font-style="italic">T</tspan> (ms)</text>
<text transform="translate(22.4 567.7) scale(1.025 1) rotate(-90)" font-size="14.55" text-anchor="middle"><tspan font-style="italic">T</tspan> (ms)</text>
</svg>
</body></html>
